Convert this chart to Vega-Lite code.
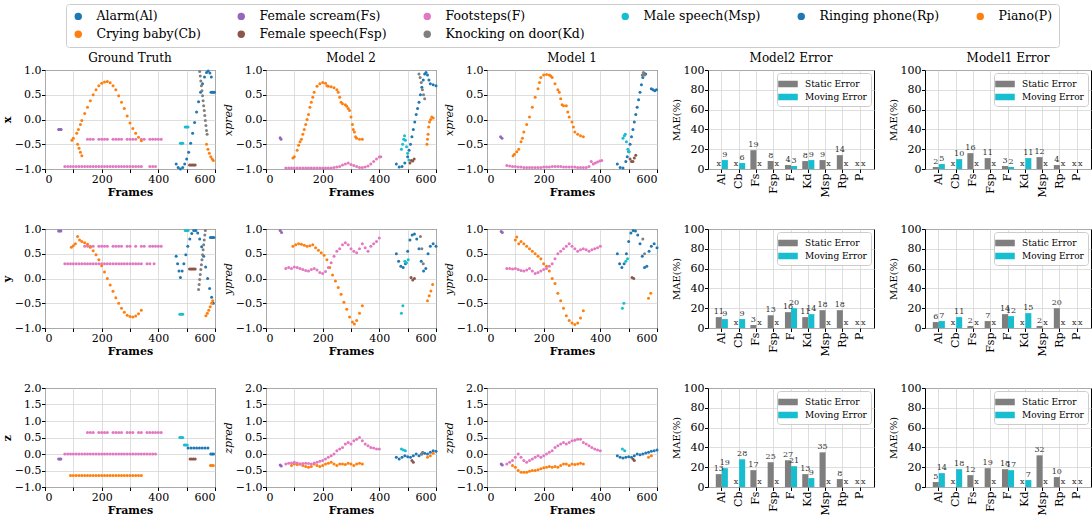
{
"$schema":"https://vega.github.io/schema/vega-lite/v6.json",
"background":"white",
"padding":{"left":0,"top":3,"right":0,"bottom":0},
"config":{
 "font":"DejaVu Serif",
 "view":{"stroke":"black","strokeWidth":1},
 "axis":{"labelFont":"DejaVu Serif","labelFontSize":11,"labelColor":"black","titleFont":"DejaVu Serif","titleFontSize":11,"titleFontWeight":"bold","titleColor":"black","domain":false,"tickColor":"black","tickSize":3.5,"gridColor":"#d6d6d6","gridWidth":0.8,"labelPadding":0.5,"titlePadding":2},
 "title":{"font":"DejaVu Serif","fontSize":12,"fontWeight":"normal","color":"black","offset":-1},
 "legend":{"labelFont":"DejaVu Serif","labelColor":"black"}
},
"datasets":{
"s":[
{"p":"G","a":"x","k":"Fs","f":48,"v":-0.2},{"p":"G","a":"x","k":"Fs","f":51,"v":-0.2},{"p":"G","a":"x","k":"Fs","f":54,"v":-0.2},{"p":"G","a":"x","k":"Fs","f":57,"v":-0.2},
{"p":"G","a":"x","k":"F","f":70,"v":-0.95},{"p":"G","a":"x","k":"F","f":80,"v":-0.95},{"p":"G","a":"x","k":"F","f":90,"v":-0.95},{"p":"G","a":"x","k":"F","f":100,"v":-0.95},{"p":"G","a":"x","k":"F","f":110,"v":-0.95},{"p":"G","a":"x","k":"F","f":120,"v":-0.95},{"p":"G","a":"x","k":"F","f":130,"v":-0.95},{"p":"G","a":"x","k":"F","f":140,"v":-0.95},{"p":"G","a":"x","k":"F","f":150,"v":-0.95},{"p":"G","a":"x","k":"F","f":160,"v":-0.95},{"p":"G","a":"x","k":"F","f":170,"v":-0.95},{"p":"G","a":"x","k":"F","f":180,"v":-0.95},{"p":"G","a":"x","k":"F","f":190,"v":-0.95},{"p":"G","a":"x","k":"F","f":200,"v":-0.95},{"p":"G","a":"x","k":"F","f":210,"v":-0.95},{"p":"G","a":"x","k":"F","f":220,"v":-0.95},{"p":"G","a":"x","k":"F","f":230,"v":-0.95},{"p":"G","a":"x","k":"F","f":240,"v":-0.95},{"p":"G","a":"x","k":"F","f":250,"v":-0.95},{"p":"G","a":"x","k":"F","f":260,"v":-0.95},{"p":"G","a":"x","k":"F","f":270,"v":-0.95},{"p":"G","a":"x","k":"F","f":280,"v":-0.95},{"p":"G","a":"x","k":"F","f":290,"v":-0.95},{"p":"G","a":"x","k":"F","f":300,"v":-0.95},{"p":"G","a":"x","k":"F","f":310,"v":-0.95},{"p":"G","a":"x","k":"F","f":320,"v":-0.95},{"p":"G","a":"x","k":"F","f":330,"v":-0.95},{"p":"G","a":"x","k":"F","f":340,"v":-0.95},{"p":"G","a":"x","k":"F","f":370,"v":-0.95},{"p":"G","a":"x","k":"F","f":380,"v":-0.95},{"p":"G","a":"x","k":"F","f":390,"v":-0.95},
{"p":"G","a":"x","k":"F","f":150,"v":-0.4},{"p":"G","a":"x","k":"F","f":160,"v":-0.4},{"p":"G","a":"x","k":"F","f":170,"v":-0.4},{"p":"G","a":"x","k":"F","f":190,"v":-0.4},{"p":"G","a":"x","k":"F","f":200,"v":-0.4},{"p":"G","a":"x","k":"F","f":210,"v":-0.4},{"p":"G","a":"x","k":"F","f":220,"v":-0.4},{"p":"G","a":"x","k":"F","f":240,"v":-0.4},{"p":"G","a":"x","k":"F","f":250,"v":-0.4},{"p":"G","a":"x","k":"F","f":260,"v":-0.4},{"p":"G","a":"x","k":"F","f":270,"v":-0.4},{"p":"G","a":"x","k":"F","f":290,"v":-0.4},{"p":"G","a":"x","k":"F","f":300,"v":-0.4},{"p":"G","a":"x","k":"F","f":310,"v":-0.4},{"p":"G","a":"x","k":"F","f":320,"v":-0.4},{"p":"G","a":"x","k":"F","f":340,"v":-0.4},{"p":"G","a":"x","k":"F","f":350,"v":-0.4},{"p":"G","a":"x","k":"F","f":370,"v":-0.4},{"p":"G","a":"x","k":"F","f":380,"v":-0.4},{"p":"G","a":"x","k":"F","f":390,"v":-0.4},{"p":"G","a":"x","k":"F","f":400,"v":-0.4},{"p":"G","a":"x","k":"F","f":410,"v":-0.4},
{"p":"G","a":"x","k":"Cb","f":95,"v":-0.42},{"p":"G","a":"x","k":"Cb","f":100,"v":-0.38},{"p":"G","a":"x","k":"Cb","f":112,"v":-0.28},{"p":"G","a":"x","k":"Cb","f":118,"v":-0.2},{"p":"G","a":"x","k":"Cb","f":125,"v":-0.1},{"p":"G","a":"x","k":"Cb","f":130,"v":-0.02},{"p":"G","a":"x","k":"Cb","f":140,"v":0.12},{"p":"G","a":"x","k":"Cb","f":150,"v":0.25},{"p":"G","a":"x","k":"Cb","f":160,"v":0.38},{"p":"G","a":"x","k":"Cb","f":170,"v":0.5},{"p":"G","a":"x","k":"Cb","f":180,"v":0.6},{"p":"G","a":"x","k":"Cb","f":190,"v":0.68},{"p":"G","a":"x","k":"Cb","f":200,"v":0.73},{"p":"G","a":"x","k":"Cb","f":210,"v":0.76},{"p":"G","a":"x","k":"Cb","f":220,"v":0.77},{"p":"G","a":"x","k":"Cb","f":230,"v":0.74},{"p":"G","a":"x","k":"Cb","f":240,"v":0.68},{"p":"G","a":"x","k":"Cb","f":250,"v":0.6},{"p":"G","a":"x","k":"Cb","f":260,"v":0.48},{"p":"G","a":"x","k":"Cb","f":270,"v":0.35},{"p":"G","a":"x","k":"Cb","f":280,"v":0.22},{"p":"G","a":"x","k":"Cb","f":290,"v":0.07},{"p":"G","a":"x","k":"Cb","f":300,"v":-0.07},{"p":"G","a":"x","k":"Cb","f":310,"v":-0.18},{"p":"G","a":"x","k":"Cb","f":320,"v":-0.28},{"p":"G","a":"x","k":"Cb","f":330,"v":-0.36},{"p":"G","a":"x","k":"Cb","f":340,"v":-0.43},
{"p":"G","a":"x","k":"Cb","f":115,"v":-0.5},{"p":"G","a":"x","k":"Cb","f":120,"v":-0.58},{"p":"G","a":"x","k":"Cb","f":125,"v":-0.66},{"p":"G","a":"x","k":"Cb","f":130,"v":-0.73},
{"p":"G","a":"x","k":"Msp","f":478,"v":-0.48},{"p":"G","a":"x","k":"Msp","f":482,"v":-0.48},{"p":"G","a":"x","k":"Msp","f":486,"v":-0.48},{"p":"G","a":"x","k":"Msp","f":495,"v":-0.15},{"p":"G","a":"x","k":"Msp","f":500,"v":-0.15},{"p":"G","a":"x","k":"Msp","f":505,"v":-0.15},
{"p":"G","a":"x","k":"Al","f":463,"v":-0.9},{"p":"G","a":"x","k":"Al","f":470,"v":-0.97},{"p":"G","a":"x","k":"Al","f":478,"v":-1.0},{"p":"G","a":"x","k":"Al","f":486,"v":-0.97},{"p":"G","a":"x","k":"Al","f":493,"v":-0.9},{"p":"G","a":"x","k":"Al","f":500,"v":-0.8},{"p":"G","a":"x","k":"Al","f":507,"v":-0.66},{"p":"G","a":"x","k":"Al","f":514,"v":-0.48},{"p":"G","a":"x","k":"Al","f":521,"v":-0.28},{"p":"G","a":"x","k":"Al","f":528,"v":-0.06},{"p":"G","a":"x","k":"Al","f":535,"v":0.15},{"p":"G","a":"x","k":"Al","f":542,"v":0.36},{"p":"G","a":"x","k":"Al","f":549,"v":0.55},{"p":"G","a":"x","k":"Al","f":556,"v":0.72},{"p":"G","a":"x","k":"Al","f":563,"v":0.86},{"p":"G","a":"x","k":"Al","f":570,"v":0.95},{"p":"G","a":"x","k":"Al","f":576,"v":0.98},{"p":"G","a":"x","k":"Al","f":582,"v":0.94},{"p":"G","a":"x","k":"Al","f":587,"v":0.86},
{"p":"G","a":"x","k":"Rp","f":586,"v":0.55},{"p":"G","a":"x","k":"Rp","f":590,"v":0.55},{"p":"G","a":"x","k":"Rp","f":594,"v":0.55},{"p":"G","a":"x","k":"Rp","f":598,"v":0.55},
{"p":"G","a":"x","k":"Kd","f":546,"v":0.97},{"p":"G","a":"x","k":"Kd","f":548,"v":0.88},{"p":"G","a":"x","k":"Kd","f":550,"v":0.78},{"p":"G","a":"x","k":"Kd","f":552,"v":0.68},{"p":"G","a":"x","k":"Kd","f":554,"v":0.58},{"p":"G","a":"x","k":"Kd","f":556,"v":0.48},{"p":"G","a":"x","k":"Kd","f":558,"v":0.38},{"p":"G","a":"x","k":"Kd","f":560,"v":0.28},{"p":"G","a":"x","k":"Kd","f":562,"v":0.18},{"p":"G","a":"x","k":"Kd","f":564,"v":0.08},{"p":"G","a":"x","k":"Kd","f":566,"v":-0.02},{"p":"G","a":"x","k":"Kd","f":568,"v":-0.12},{"p":"G","a":"x","k":"Kd","f":570,"v":-0.22},{"p":"G","a":"x","k":"Kd","f":572,"v":-0.3},
{"p":"G","a":"x","k":"Fsp","f":510,"v":-0.92},{"p":"G","a":"x","k":"Fsp","f":515,"v":-0.92},{"p":"G","a":"x","k":"Fsp","f":520,"v":-0.92},{"p":"G","a":"x","k":"Fsp","f":525,"v":-0.92},{"p":"G","a":"x","k":"Fsp","f":530,"v":-0.92},
{"p":"G","a":"x","k":"P","f":570,"v":-0.5},{"p":"G","a":"x","k":"P","f":575,"v":-0.6},{"p":"G","a":"x","k":"P","f":580,"v":-0.68},{"p":"G","a":"x","k":"P","f":585,"v":-0.75},{"p":"G","a":"x","k":"P","f":590,"v":-0.8},{"p":"G","a":"x","k":"P","f":594,"v":-0.83},

{"p":"G","a":"y","k":"Fs","f":48,"v":0.96},{"p":"G","a":"y","k":"Fs","f":52,"v":0.96},{"p":"G","a":"y","k":"Fs","f":56,"v":0.96},
{"p":"G","a":"y","k":"F","f":140,"v":0.65},{"p":"G","a":"y","k":"F","f":150,"v":0.65},{"p":"G","a":"y","k":"F","f":160,"v":0.65},{"p":"G","a":"y","k":"F","f":170,"v":0.65},{"p":"G","a":"y","k":"F","f":190,"v":0.65},{"p":"G","a":"y","k":"F","f":200,"v":0.65},{"p":"G","a":"y","k":"F","f":210,"v":0.65},{"p":"G","a":"y","k":"F","f":220,"v":0.65},{"p":"G","a":"y","k":"F","f":240,"v":0.65},{"p":"G","a":"y","k":"F","f":250,"v":0.65},{"p":"G","a":"y","k":"F","f":260,"v":0.65},{"p":"G","a":"y","k":"F","f":270,"v":0.65},{"p":"G","a":"y","k":"F","f":290,"v":0.65},{"p":"G","a":"y","k":"F","f":300,"v":0.65},{"p":"G","a":"y","k":"F","f":320,"v":0.65},{"p":"G","a":"y","k":"F","f":340,"v":0.65},{"p":"G","a":"y","k":"F","f":350,"v":0.65},{"p":"G","a":"y","k":"F","f":370,"v":0.65},{"p":"G","a":"y","k":"F","f":380,"v":0.65},{"p":"G","a":"y","k":"F","f":390,"v":0.65},{"p":"G","a":"y","k":"F","f":400,"v":0.65},{"p":"G","a":"y","k":"F","f":410,"v":0.65},
{"p":"G","a":"y","k":"F","f":70,"v":0.3},{"p":"G","a":"y","k":"F","f":80,"v":0.3},{"p":"G","a":"y","k":"F","f":90,"v":0.3},{"p":"G","a":"y","k":"F","f":100,"v":0.3},{"p":"G","a":"y","k":"F","f":110,"v":0.3},{"p":"G","a":"y","k":"F","f":120,"v":0.3},{"p":"G","a":"y","k":"F","f":130,"v":0.3},{"p":"G","a":"y","k":"F","f":140,"v":0.3},{"p":"G","a":"y","k":"F","f":150,"v":0.3},{"p":"G","a":"y","k":"F","f":160,"v":0.3},{"p":"G","a":"y","k":"F","f":170,"v":0.3},{"p":"G","a":"y","k":"F","f":180,"v":0.3},{"p":"G","a":"y","k":"F","f":190,"v":0.3},{"p":"G","a":"y","k":"F","f":200,"v":0.3},{"p":"G","a":"y","k":"F","f":210,"v":0.3},{"p":"G","a":"y","k":"F","f":220,"v":0.3},{"p":"G","a":"y","k":"F","f":230,"v":0.3},{"p":"G","a":"y","k":"F","f":240,"v":0.3},{"p":"G","a":"y","k":"F","f":250,"v":0.3},{"p":"G","a":"y","k":"F","f":260,"v":0.3},{"p":"G","a":"y","k":"F","f":270,"v":0.3},{"p":"G","a":"y","k":"F","f":280,"v":0.3},{"p":"G","a":"y","k":"F","f":290,"v":0.3},{"p":"G","a":"y","k":"F","f":300,"v":0.3},{"p":"G","a":"y","k":"F","f":310,"v":0.3},{"p":"G","a":"y","k":"F","f":320,"v":0.3},{"p":"G","a":"y","k":"F","f":330,"v":0.3},{"p":"G","a":"y","k":"F","f":340,"v":0.3},{"p":"G","a":"y","k":"F","f":360,"v":0.3},{"p":"G","a":"y","k":"F","f":370,"v":0.3},{"p":"G","a":"y","k":"F","f":385,"v":0.3},
{"p":"G","a":"y","k":"Cb","f":93,"v":0.63},{"p":"G","a":"y","k":"Cb","f":100,"v":0.66},{"p":"G","a":"y","k":"Cb","f":107,"v":0.7},{"p":"G","a":"y","k":"Cb","f":115,"v":0.85},{"p":"G","a":"y","k":"Cb","f":122,"v":0.78},{"p":"G","a":"y","k":"Cb","f":130,"v":0.75},{"p":"G","a":"y","k":"Cb","f":140,"v":0.72},{"p":"G","a":"y","k":"Cb","f":150,"v":0.69},{"p":"G","a":"y","k":"Cb","f":160,"v":0.63},{"p":"G","a":"y","k":"Cb","f":170,"v":0.56},{"p":"G","a":"y","k":"Cb","f":180,"v":0.48},{"p":"G","a":"y","k":"Cb","f":190,"v":0.38},{"p":"G","a":"y","k":"Cb","f":200,"v":0.26},{"p":"G","a":"y","k":"Cb","f":210,"v":0.13},{"p":"G","a":"y","k":"Cb","f":220,"v":0.0},{"p":"G","a":"y","k":"Cb","f":230,"v":-0.13},{"p":"G","a":"y","k":"Cb","f":240,"v":-0.26},{"p":"G","a":"y","k":"Cb","f":250,"v":-0.39},{"p":"G","a":"y","k":"Cb","f":260,"v":-0.5},{"p":"G","a":"y","k":"Cb","f":270,"v":-0.6},{"p":"G","a":"y","k":"Cb","f":280,"v":-0.68},{"p":"G","a":"y","k":"Cb","f":290,"v":-0.74},{"p":"G","a":"y","k":"Cb","f":300,"v":-0.77},{"p":"G","a":"y","k":"Cb","f":310,"v":-0.78},{"p":"G","a":"y","k":"Cb","f":320,"v":-0.76},{"p":"G","a":"y","k":"Cb","f":330,"v":-0.71},{"p":"G","a":"y","k":"Cb","f":340,"v":-0.64},
{"p":"G","a":"y","k":"Al","f":463,"v":0.45},{"p":"G","a":"y","k":"Al","f":468,"v":0.3},{"p":"G","a":"y","k":"Al","f":473,"v":0.15},{"p":"G","a":"y","k":"Al","f":478,"v":0.02},{"p":"G","a":"y","k":"Al","f":484,"v":0.15},{"p":"G","a":"y","k":"Al","f":490,"v":0.3},{"p":"G","a":"y","k":"Al","f":497,"v":0.48},{"p":"G","a":"y","k":"Al","f":504,"v":0.65},{"p":"G","a":"y","k":"Al","f":511,"v":0.8},{"p":"G","a":"y","k":"Al","f":518,"v":0.91},{"p":"G","a":"y","k":"Al","f":525,"v":0.97},{"p":"G","a":"y","k":"Al","f":532,"v":0.97},{"p":"G","a":"y","k":"Al","f":539,"v":0.92},{"p":"G","a":"y","k":"Al","f":546,"v":0.8},{"p":"G","a":"y","k":"Al","f":553,"v":0.64},{"p":"G","a":"y","k":"Al","f":560,"v":0.45},{"p":"G","a":"y","k":"Al","f":567,"v":0.23},{"p":"G","a":"y","k":"Al","f":574,"v":0.0},{"p":"G","a":"y","k":"Al","f":581,"v":-0.2},{"p":"G","a":"y","k":"Al","f":588,"v":-0.38},{"p":"G","a":"y","k":"Al","f":594,"v":-0.5},
{"p":"G","a":"y","k":"Msp","f":476,"v":-0.72},{"p":"G","a":"y","k":"Msp","f":481,"v":-0.72},{"p":"G","a":"y","k":"Msp","f":486,"v":-0.72},{"p":"G","a":"y","k":"Msp","f":495,"v":0.97},{"p":"G","a":"y","k":"Msp","f":500,"v":0.97},{"p":"G","a":"y","k":"Msp","f":505,"v":0.97},
{"p":"G","a":"y","k":"Fsp","f":510,"v":0.19},{"p":"G","a":"y","k":"Fsp","f":515,"v":0.19},{"p":"G","a":"y","k":"Fsp","f":520,"v":0.19},{"p":"G","a":"y","k":"Fsp","f":525,"v":0.19},{"p":"G","a":"y","k":"Fsp","f":530,"v":0.19},
{"p":"G","a":"y","k":"Kd","f":566,"v":0.97},{"p":"G","a":"y","k":"Kd","f":564,"v":0.88},{"p":"G","a":"y","k":"Kd","f":562,"v":0.78},{"p":"G","a":"y","k":"Kd","f":560,"v":0.68},{"p":"G","a":"y","k":"Kd","f":558,"v":0.58},{"p":"G","a":"y","k":"Kd","f":556,"v":0.48},{"p":"G","a":"y","k":"Kd","f":554,"v":0.38},{"p":"G","a":"y","k":"Kd","f":552,"v":0.28},{"p":"G","a":"y","k":"Kd","f":550,"v":0.18},{"p":"G","a":"y","k":"Kd","f":548,"v":0.08},{"p":"G","a":"y","k":"Kd","f":546,"v":-0.02},{"p":"G","a":"y","k":"Kd","f":544,"v":-0.12},{"p":"G","a":"y","k":"Kd","f":542,"v":-0.22},
{"p":"G","a":"y","k":"Rp","f":584,"v":0.83},{"p":"G","a":"y","k":"Rp","f":588,"v":0.83},{"p":"G","a":"y","k":"Rp","f":592,"v":0.83},{"p":"G","a":"y","k":"Rp","f":596,"v":0.83},
{"p":"G","a":"y","k":"P","f":568,"v":-0.75},{"p":"G","a":"y","k":"P","f":573,"v":-0.7},{"p":"G","a":"y","k":"P","f":578,"v":-0.64},{"p":"G","a":"y","k":"P","f":583,"v":-0.57},{"p":"G","a":"y","k":"P","f":588,"v":-0.5},{"p":"G","a":"y","k":"P","f":592,"v":-0.45},

{"p":"G","a":"z","k":"Fs","f":48,"v":-0.15},{"p":"G","a":"z","k":"Fs","f":52,"v":-0.15},{"p":"G","a":"z","k":"Fs","f":56,"v":-0.15},
{"p":"G","a":"z","k":"F","f":70,"v":0.0},{"p":"G","a":"z","k":"F","f":80,"v":0.0},{"p":"G","a":"z","k":"F","f":90,"v":0.0},{"p":"G","a":"z","k":"F","f":100,"v":0.0},{"p":"G","a":"z","k":"F","f":110,"v":0.0},{"p":"G","a":"z","k":"F","f":120,"v":0.0},{"p":"G","a":"z","k":"F","f":130,"v":0.0},{"p":"G","a":"z","k":"F","f":140,"v":0.0},{"p":"G","a":"z","k":"F","f":150,"v":0.0},{"p":"G","a":"z","k":"F","f":160,"v":0.0},{"p":"G","a":"z","k":"F","f":170,"v":0.0},{"p":"G","a":"z","k":"F","f":180,"v":0.0},{"p":"G","a":"z","k":"F","f":190,"v":0.0},{"p":"G","a":"z","k":"F","f":200,"v":0.0},{"p":"G","a":"z","k":"F","f":210,"v":0.0},{"p":"G","a":"z","k":"F","f":220,"v":0.0},{"p":"G","a":"z","k":"F","f":230,"v":0.0},{"p":"G","a":"z","k":"F","f":240,"v":0.0},{"p":"G","a":"z","k":"F","f":250,"v":0.0},{"p":"G","a":"z","k":"F","f":260,"v":0.0},{"p":"G","a":"z","k":"F","f":270,"v":0.0},{"p":"G","a":"z","k":"F","f":280,"v":0.0},{"p":"G","a":"z","k":"F","f":290,"v":0.0},{"p":"G","a":"z","k":"F","f":300,"v":0.0},{"p":"G","a":"z","k":"F","f":310,"v":0.0},{"p":"G","a":"z","k":"F","f":320,"v":0.0},{"p":"G","a":"z","k":"F","f":330,"v":0.0},{"p":"G","a":"z","k":"F","f":340,"v":0.0},{"p":"G","a":"z","k":"F","f":350,"v":0.0},{"p":"G","a":"z","k":"F","f":360,"v":0.0},{"p":"G","a":"z","k":"F","f":370,"v":0.0},{"p":"G","a":"z","k":"F","f":380,"v":0.0},{"p":"G","a":"z","k":"F","f":390,"v":0.0},
{"p":"G","a":"z","k":"F","f":150,"v":0.65},{"p":"G","a":"z","k":"F","f":160,"v":0.65},{"p":"G","a":"z","k":"F","f":170,"v":0.65},{"p":"G","a":"z","k":"F","f":190,"v":0.65},{"p":"G","a":"z","k":"F","f":200,"v":0.65},{"p":"G","a":"z","k":"F","f":210,"v":0.65},{"p":"G","a":"z","k":"F","f":220,"v":0.65},{"p":"G","a":"z","k":"F","f":240,"v":0.65},{"p":"G","a":"z","k":"F","f":250,"v":0.65},{"p":"G","a":"z","k":"F","f":260,"v":0.65},{"p":"G","a":"z","k":"F","f":270,"v":0.65},{"p":"G","a":"z","k":"F","f":290,"v":0.65},{"p":"G","a":"z","k":"F","f":300,"v":0.65},{"p":"G","a":"z","k":"F","f":310,"v":0.65},{"p":"G","a":"z","k":"F","f":330,"v":0.65},{"p":"G","a":"z","k":"F","f":340,"v":0.65},{"p":"G","a":"z","k":"F","f":360,"v":0.65},{"p":"G","a":"z","k":"F","f":370,"v":0.65},{"p":"G","a":"z","k":"F","f":380,"v":0.65},{"p":"G","a":"z","k":"F","f":390,"v":0.65},{"p":"G","a":"z","k":"F","f":400,"v":0.65},{"p":"G","a":"z","k":"F","f":410,"v":0.65},
{"p":"G","a":"z","k":"Cb","f":90,"v":-0.65},{"p":"G","a":"z","k":"Cb","f":100,"v":-0.65},{"p":"G","a":"z","k":"Cb","f":110,"v":-0.65},{"p":"G","a":"z","k":"Cb","f":120,"v":-0.65},{"p":"G","a":"z","k":"Cb","f":130,"v":-0.65},{"p":"G","a":"z","k":"Cb","f":140,"v":-0.65},{"p":"G","a":"z","k":"Cb","f":150,"v":-0.65},{"p":"G","a":"z","k":"Cb","f":160,"v":-0.65},{"p":"G","a":"z","k":"Cb","f":170,"v":-0.65},{"p":"G","a":"z","k":"Cb","f":180,"v":-0.65},{"p":"G","a":"z","k":"Cb","f":190,"v":-0.65},{"p":"G","a":"z","k":"Cb","f":200,"v":-0.65},{"p":"G","a":"z","k":"Cb","f":210,"v":-0.65},{"p":"G","a":"z","k":"Cb","f":220,"v":-0.65},{"p":"G","a":"z","k":"Cb","f":230,"v":-0.65},{"p":"G","a":"z","k":"Cb","f":240,"v":-0.65},{"p":"G","a":"z","k":"Cb","f":250,"v":-0.65},{"p":"G","a":"z","k":"Cb","f":260,"v":-0.65},{"p":"G","a":"z","k":"Cb","f":270,"v":-0.65},{"p":"G","a":"z","k":"Cb","f":280,"v":-0.65},{"p":"G","a":"z","k":"Cb","f":290,"v":-0.65},{"p":"G","a":"z","k":"Cb","f":300,"v":-0.65},{"p":"G","a":"z","k":"Cb","f":310,"v":-0.65},{"p":"G","a":"z","k":"Cb","f":320,"v":-0.65},{"p":"G","a":"z","k":"Cb","f":330,"v":-0.65},{"p":"G","a":"z","k":"Cb","f":340,"v":-0.65},
{"p":"G","a":"z","k":"Msp","f":476,"v":0.5},{"p":"G","a":"z","k":"Msp","f":481,"v":0.5},{"p":"G","a":"z","k":"Msp","f":486,"v":0.5},{"p":"G","a":"z","k":"Msp","f":492,"v":0.27},{"p":"G","a":"z","k":"Msp","f":497,"v":0.27},{"p":"G","a":"z","k":"Msp","f":502,"v":0.27},
{"p":"G","a":"z","k":"Al","f":505,"v":0.18},{"p":"G","a":"z","k":"Al","f":515,"v":0.18},{"p":"G","a":"z","k":"Al","f":525,"v":0.18},{"p":"G","a":"z","k":"Al","f":535,"v":0.18},{"p":"G","a":"z","k":"Al","f":545,"v":0.18},{"p":"G","a":"z","k":"Al","f":555,"v":0.18},{"p":"G","a":"z","k":"Al","f":565,"v":0.18},{"p":"G","a":"z","k":"Al","f":575,"v":0.18},
{"p":"G","a":"z","k":"Fsp","f":512,"v":-0.15},{"p":"G","a":"z","k":"Fsp","f":518,"v":-0.15},{"p":"G","a":"z","k":"Fsp","f":524,"v":-0.15},{"p":"G","a":"z","k":"Fsp","f":530,"v":-0.15},
{"p":"G","a":"z","k":"Rp","f":585,"v":0.0},{"p":"G","a":"z","k":"Rp","f":590,"v":0.0},{"p":"G","a":"z","k":"Rp","f":595,"v":0.0},
{"p":"G","a":"z","k":"P","f":584,"v":-0.35},{"p":"G","a":"z","k":"P","f":589,"v":-0.35},{"p":"G","a":"z","k":"P","f":594,"v":-0.35},

{"p":"M2","a":"x","k":"Fs","f":50,"v":-0.37},{"p":"M2","a":"x","k":"Fs","f":53,"v":-0.4},
{"p":"M2","a":"x","k":"Cb","f":95,"v":-0.78},{"p":"M2","a":"x","k":"Cb","f":100,"v":-0.75},{"p":"M2","a":"x","k":"Cb","f":110,"v":-0.62},{"p":"M2","a":"x","k":"Cb","f":115,"v":-0.52},{"p":"M2","a":"x","k":"Cb","f":120,"v":-0.45},{"p":"M2","a":"x","k":"Cb","f":125,"v":-0.4},{"p":"M2","a":"x","k":"Cb","f":130,"v":-0.3},{"p":"M2","a":"x","k":"Cb","f":135,"v":-0.2},{"p":"M2","a":"x","k":"Cb","f":140,"v":-0.1},{"p":"M2","a":"x","k":"Cb","f":145,"v":0.0},{"p":"M2","a":"x","k":"Cb","f":150,"v":0.1},{"p":"M2","a":"x","k":"Cb","f":155,"v":0.25},{"p":"M2","a":"x","k":"Cb","f":160,"v":0.35},{"p":"M2","a":"x","k":"Cb","f":165,"v":0.45},{"p":"M2","a":"x","k":"Cb","f":170,"v":0.55},{"p":"M2","a":"x","k":"Cb","f":180,"v":0.67},{"p":"M2","a":"x","k":"Cb","f":190,"v":0.72},{"p":"M2","a":"x","k":"Cb","f":200,"v":0.75},{"p":"M2","a":"x","k":"Cb","f":210,"v":0.73},{"p":"M2","a":"x","k":"Cb","f":215,"v":0.68},{"p":"M2","a":"x","k":"Cb","f":220,"v":0.67},{"p":"M2","a":"x","k":"Cb","f":230,"v":0.66},{"p":"M2","a":"x","k":"Cb","f":240,"v":0.64},{"p":"M2","a":"x","k":"Cb","f":250,"v":0.6},{"p":"M2","a":"x","k":"Cb","f":255,"v":0.55},{"p":"M2","a":"x","k":"Cb","f":260,"v":0.45},{"p":"M2","a":"x","k":"Cb","f":265,"v":0.35},{"p":"M2","a":"x","k":"Cb","f":270,"v":0.32},{"p":"M2","a":"x","k":"Cb","f":280,"v":0.3},{"p":"M2","a":"x","k":"Cb","f":285,"v":0.27},{"p":"M2","a":"x","k":"Cb","f":290,"v":0.22},{"p":"M2","a":"x","k":"Cb","f":295,"v":0.18},{"p":"M2","a":"x","k":"Cb","f":300,"v":0.05},{"p":"M2","a":"x","k":"Cb","f":305,"v":-0.1},{"p":"M2","a":"x","k":"Cb","f":308,"v":-0.2},{"p":"M2","a":"x","k":"Cb","f":312,"v":-0.25},{"p":"M2","a":"x","k":"Cb","f":316,"v":-0.35},{"p":"M2","a":"x","k":"Cb","f":320,"v":-0.38},{"p":"M2","a":"x","k":"Cb","f":330,"v":-0.4},{"p":"M2","a":"x","k":"Cb","f":340,"v":-0.4},
{"p":"M2","a":"x","k":"F","f":70,"v":-0.98},{"p":"M2","a":"x","k":"F","f":80,"v":-0.98},{"p":"M2","a":"x","k":"F","f":90,"v":-0.98},{"p":"M2","a":"x","k":"F","f":100,"v":-0.98},{"p":"M2","a":"x","k":"F","f":110,"v":-0.98},{"p":"M2","a":"x","k":"F","f":120,"v":-0.98},{"p":"M2","a":"x","k":"F","f":130,"v":-0.98},{"p":"M2","a":"x","k":"F","f":140,"v":-0.98},{"p":"M2","a":"x","k":"F","f":150,"v":-0.98},{"p":"M2","a":"x","k":"F","f":160,"v":-0.98},{"p":"M2","a":"x","k":"F","f":170,"v":-0.98},{"p":"M2","a":"x","k":"F","f":180,"v":-0.98},{"p":"M2","a":"x","k":"F","f":190,"v":-0.98},{"p":"M2","a":"x","k":"F","f":200,"v":-0.98},{"p":"M2","a":"x","k":"F","f":210,"v":-0.98},{"p":"M2","a":"x","k":"F","f":220,"v":-0.98},{"p":"M2","a":"x","k":"F","f":230,"v":-0.98},{"p":"M2","a":"x","k":"F","f":240,"v":-0.97},{"p":"M2","a":"x","k":"F","f":250,"v":-0.96},{"p":"M2","a":"x","k":"F","f":260,"v":-0.95},{"p":"M2","a":"x","k":"F","f":270,"v":-0.92},{"p":"M2","a":"x","k":"F","f":280,"v":-0.9},{"p":"M2","a":"x","k":"F","f":290,"v":-0.88},{"p":"M2","a":"x","k":"F","f":300,"v":-0.91},{"p":"M2","a":"x","k":"F","f":310,"v":-0.93},{"p":"M2","a":"x","k":"F","f":320,"v":-0.95},{"p":"M2","a":"x","k":"F","f":330,"v":-0.97},{"p":"M2","a":"x","k":"F","f":340,"v":-0.97},{"p":"M2","a":"x","k":"F","f":350,"v":-0.96},{"p":"M2","a":"x","k":"F","f":360,"v":-0.94},{"p":"M2","a":"x","k":"F","f":370,"v":-0.9},{"p":"M2","a":"x","k":"F","f":380,"v":-0.85},{"p":"M2","a":"x","k":"F","f":390,"v":-0.8},{"p":"M2","a":"x","k":"F","f":400,"v":-0.76},{"p":"M2","a":"x","k":"F","f":405,"v":-0.75},
{"p":"M2","a":"x","k":"Al","f":460,"v":-0.9},{"p":"M2","a":"x","k":"Al","f":470,"v":-0.96},{"p":"M2","a":"x","k":"Al","f":480,"v":-0.95},{"p":"M2","a":"x","k":"Al","f":490,"v":-0.88},{"p":"M2","a":"x","k":"Al","f":500,"v":-0.75},{"p":"M2","a":"x","k":"Al","f":505,"v":-0.62},{"p":"M2","a":"x","k":"Al","f":510,"v":-0.5},{"p":"M2","a":"x","k":"Al","f":515,"v":-0.35},{"p":"M2","a":"x","k":"Al","f":520,"v":-0.2},{"p":"M2","a":"x","k":"Al","f":525,"v":-0.05},{"p":"M2","a":"x","k":"Al","f":530,"v":0.1},{"p":"M2","a":"x","k":"Al","f":535,"v":0.22},{"p":"M2","a":"x","k":"Al","f":540,"v":0.35},{"p":"M2","a":"x","k":"Al","f":545,"v":0.5},{"p":"M2","a":"x","k":"Al","f":550,"v":0.65},{"p":"M2","a":"x","k":"Al","f":555,"v":0.8},{"p":"M2","a":"x","k":"Al","f":560,"v":0.92},{"p":"M2","a":"x","k":"Al","f":565,"v":0.95},{"p":"M2","a":"x","k":"Al","f":570,"v":0.9},{"p":"M2","a":"x","k":"Al","f":575,"v":0.8},{"p":"M2","a":"x","k":"Al","f":580,"v":0.72},{"p":"M2","a":"x","k":"Al","f":590,"v":0.7},{"p":"M2","a":"x","k":"Al","f":600,"v":0.68},
{"p":"M2","a":"x","k":"Msp","f":478,"v":-0.6},{"p":"M2","a":"x","k":"Msp","f":482,"v":-0.5},{"p":"M2","a":"x","k":"Msp","f":486,"v":-0.4},{"p":"M2","a":"x","k":"Msp","f":489,"v":-0.33},{"p":"M2","a":"x","k":"Msp","f":492,"v":-0.42},{"p":"M2","a":"x","k":"Msp","f":496,"v":-0.55},{"p":"M2","a":"x","k":"Msp","f":500,"v":-0.68},{"p":"M2","a":"x","k":"Msp","f":504,"v":-0.82},
{"p":"M2","a":"x","k":"Fsp","f":508,"v":-0.88},{"p":"M2","a":"x","k":"Fsp","f":513,"v":-0.83},{"p":"M2","a":"x","k":"Fsp","f":518,"v":-0.84},{"p":"M2","a":"x","k":"Fsp","f":523,"v":-0.8},
{"p":"M2","a":"x","k":"Kd","f":540,"v":0.92},{"p":"M2","a":"x","k":"Kd","f":544,"v":0.85},{"p":"M2","a":"x","k":"Kd","f":548,"v":0.75},{"p":"M2","a":"x","k":"Kd","f":552,"v":0.6},{"p":"M2","a":"x","k":"Kd","f":556,"v":0.5},{"p":"M2","a":"x","k":"Kd","f":560,"v":0.42},
{"p":"M2","a":"x","k":"P","f":568,"v":-0.5},{"p":"M2","a":"x","k":"P","f":570,"v":-0.4},{"p":"M2","a":"x","k":"P","f":572,"v":-0.3},{"p":"M2","a":"x","k":"P","f":574,"v":-0.15},{"p":"M2","a":"x","k":"P","f":577,"v":-0.05},{"p":"M2","a":"x","k":"P","f":581,"v":0.0},{"p":"M2","a":"x","k":"P","f":585,"v":0.05},{"p":"M2","a":"x","k":"P","f":590,"v":0.03},

{"p":"M1","a":"x","k":"Fs","f":48,"v":-0.35},{"p":"M1","a":"x","k":"Fs","f":53,"v":-0.38},
{"p":"M1","a":"x","k":"Cb","f":92,"v":-0.73},{"p":"M1","a":"x","k":"Cb","f":97,"v":-0.7},{"p":"M1","a":"x","k":"Cb","f":105,"v":-0.65},{"p":"M1","a":"x","k":"Cb","f":112,"v":-0.6},{"p":"M1","a":"x","k":"Cb","f":120,"v":-0.45},{"p":"M1","a":"x","k":"Cb","f":125,"v":-0.38},{"p":"M1","a":"x","k":"Cb","f":130,"v":-0.25},{"p":"M1","a":"x","k":"Cb","f":140,"v":-0.1},{"p":"M1","a":"x","k":"Cb","f":150,"v":0.05},{"p":"M1","a":"x","k":"Cb","f":160,"v":0.25},{"p":"M1","a":"x","k":"Cb","f":170,"v":0.45},{"p":"M1","a":"x","k":"Cb","f":180,"v":0.62},{"p":"M1","a":"x","k":"Cb","f":185,"v":0.75},{"p":"M1","a":"x","k":"Cb","f":190,"v":0.85},{"p":"M1","a":"x","k":"Cb","f":200,"v":0.9},{"p":"M1","a":"x","k":"Cb","f":210,"v":0.91},{"p":"M1","a":"x","k":"Cb","f":220,"v":0.9},{"p":"M1","a":"x","k":"Cb","f":225,"v":0.88},{"p":"M1","a":"x","k":"Cb","f":230,"v":0.85},{"p":"M1","a":"x","k":"Cb","f":240,"v":0.72},{"p":"M1","a":"x","k":"Cb","f":250,"v":0.6},{"p":"M1","a":"x","k":"Cb","f":255,"v":0.55},{"p":"M1","a":"x","k":"Cb","f":260,"v":0.42},{"p":"M1","a":"x","k":"Cb","f":265,"v":0.3},{"p":"M1","a":"x","k":"Cb","f":270,"v":0.28},{"p":"M1","a":"x","k":"Cb","f":280,"v":0.28},{"p":"M1","a":"x","k":"Cb","f":285,"v":0.15},{"p":"M1","a":"x","k":"Cb","f":290,"v":0.05},{"p":"M1","a":"x","k":"Cb","f":300,"v":-0.05},{"p":"M1","a":"x","k":"Cb","f":305,"v":-0.15},{"p":"M1","a":"x","k":"Cb","f":310,"v":-0.25},{"p":"M1","a":"x","k":"Cb","f":320,"v":-0.3},{"p":"M1","a":"x","k":"Cb","f":330,"v":-0.33},{"p":"M1","a":"x","k":"Cb","f":340,"v":-0.35},
{"p":"M1","a":"x","k":"F","f":70,"v":-0.93},{"p":"M1","a":"x","k":"F","f":80,"v":-0.94},{"p":"M1","a":"x","k":"F","f":90,"v":-0.95},{"p":"M1","a":"x","k":"F","f":100,"v":-0.95},{"p":"M1","a":"x","k":"F","f":110,"v":-0.96},{"p":"M1","a":"x","k":"F","f":120,"v":-0.96},{"p":"M1","a":"x","k":"F","f":130,"v":-0.97},{"p":"M1","a":"x","k":"F","f":140,"v":-0.97},{"p":"M1","a":"x","k":"F","f":150,"v":-0.97},{"p":"M1","a":"x","k":"F","f":160,"v":-0.97},{"p":"M1","a":"x","k":"F","f":170,"v":-0.97},{"p":"M1","a":"x","k":"F","f":180,"v":-0.97},{"p":"M1","a":"x","k":"F","f":190,"v":-0.97},{"p":"M1","a":"x","k":"F","f":200,"v":-0.96},{"p":"M1","a":"x","k":"F","f":210,"v":-0.96},{"p":"M1","a":"x","k":"F","f":220,"v":-0.96},{"p":"M1","a":"x","k":"F","f":230,"v":-0.95},{"p":"M1","a":"x","k":"F","f":240,"v":-0.95},{"p":"M1","a":"x","k":"F","f":250,"v":-0.95},{"p":"M1","a":"x","k":"F","f":260,"v":-0.95},{"p":"M1","a":"x","k":"F","f":270,"v":-0.96},{"p":"M1","a":"x","k":"F","f":280,"v":-0.96},{"p":"M1","a":"x","k":"F","f":290,"v":-0.96},{"p":"M1","a":"x","k":"F","f":300,"v":-0.96},{"p":"M1","a":"x","k":"F","f":310,"v":-0.96},{"p":"M1","a":"x","k":"F","f":320,"v":-0.97},{"p":"M1","a":"x","k":"F","f":330,"v":-0.97},{"p":"M1","a":"x","k":"F","f":340,"v":-0.97},{"p":"M1","a":"x","k":"F","f":350,"v":-0.97},{"p":"M1","a":"x","k":"F","f":360,"v":-0.95},{"p":"M1","a":"x","k":"F","f":368,"v":-0.85},{"p":"M1","a":"x","k":"F","f":375,"v":-0.9},{"p":"M1","a":"x","k":"F","f":382,"v":-0.88},{"p":"M1","a":"x","k":"F","f":390,"v":-0.86},{"p":"M1","a":"x","k":"F","f":398,"v":-0.84},{"p":"M1","a":"x","k":"F","f":405,"v":-0.83},
{"p":"M1","a":"x","k":"Al","f":460,"v":-0.9},{"p":"M1","a":"x","k":"Al","f":470,"v":-0.97},{"p":"M1","a":"x","k":"Al","f":480,"v":-0.98},{"p":"M1","a":"x","k":"Al","f":490,"v":-0.85},{"p":"M1","a":"x","k":"Al","f":495,"v":-0.75},{"p":"M1","a":"x","k":"Al","f":500,"v":-0.65},{"p":"M1","a":"x","k":"Al","f":505,"v":-0.5},{"p":"M1","a":"x","k":"Al","f":510,"v":-0.35},{"p":"M1","a":"x","k":"Al","f":515,"v":-0.2},{"p":"M1","a":"x","k":"Al","f":520,"v":-0.05},{"p":"M1","a":"x","k":"Al","f":525,"v":0.1},{"p":"M1","a":"x","k":"Al","f":530,"v":0.25},{"p":"M1","a":"x","k":"Al","f":535,"v":0.4},{"p":"M1","a":"x","k":"Al","f":540,"v":0.55},{"p":"M1","a":"x","k":"Al","f":545,"v":0.7},{"p":"M1","a":"x","k":"Al","f":550,"v":0.85},{"p":"M1","a":"x","k":"Al","f":555,"v":0.93},{"p":"M1","a":"x","k":"Al","f":560,"v":0.92},
{"p":"M1","a":"x","k":"Rp","f":580,"v":0.62},{"p":"M1","a":"x","k":"Rp","f":586,"v":0.6},{"p":"M1","a":"x","k":"Rp","f":592,"v":0.58},{"p":"M1","a":"x","k":"Rp","f":598,"v":0.6},
{"p":"M1","a":"x","k":"Msp","f":480,"v":-0.38},{"p":"M1","a":"x","k":"Msp","f":485,"v":-0.33},{"p":"M1","a":"x","k":"Msp","f":488,"v":-0.3},{"p":"M1","a":"x","k":"Msp","f":492,"v":-0.45},{"p":"M1","a":"x","k":"Msp","f":497,"v":-0.6},{"p":"M1","a":"x","k":"Msp","f":502,"v":-0.65},
{"p":"M1","a":"x","k":"Fsp","f":505,"v":-0.8},{"p":"M1","a":"x","k":"Fsp","f":510,"v":-0.85},{"p":"M1","a":"x","k":"Fsp","f":515,"v":-0.85},{"p":"M1","a":"x","k":"Fsp","f":520,"v":-0.78},{"p":"M1","a":"x","k":"Fsp","f":525,"v":-0.72},
{"p":"M1","a":"x","k":"Kd","f":548,"v":0.9},{"p":"M1","a":"x","k":"Kd","f":552,"v":0.95},{"p":"M1","a":"x","k":"Kd","f":556,"v":0.9},

{"p":"M2","a":"y","k":"Fs","f":50,"v":0.97},{"p":"M2","a":"y","k":"Fs","f":55,"v":0.93},
{"p":"M2","a":"y","k":"Cb","f":95,"v":0.65},{"p":"M2","a":"y","k":"Cb","f":105,"v":0.68},{"p":"M2","a":"y","k":"Cb","f":115,"v":0.7},{"p":"M2","a":"y","k":"Cb","f":125,"v":0.69},{"p":"M2","a":"y","k":"Cb","f":135,"v":0.67},{"p":"M2","a":"y","k":"Cb","f":145,"v":0.65},{"p":"M2","a":"y","k":"Cb","f":155,"v":0.66},{"p":"M2","a":"y","k":"Cb","f":165,"v":0.68},{"p":"M2","a":"y","k":"Cb","f":175,"v":0.62},{"p":"M2","a":"y","k":"Cb","f":185,"v":0.57},{"p":"M2","a":"y","k":"Cb","f":195,"v":0.52},{"p":"M2","a":"y","k":"Cb","f":205,"v":0.47},{"p":"M2","a":"y","k":"Cb","f":215,"v":0.38},{"p":"M2","a":"y","k":"Cb","f":225,"v":0.22},{"p":"M2","a":"y","k":"Cb","f":235,"v":0.07},{"p":"M2","a":"y","k":"Cb","f":245,"v":-0.05},{"p":"M2","a":"y","k":"Cb","f":255,"v":-0.18},{"p":"M2","a":"y","k":"Cb","f":265,"v":-0.32},{"p":"M2","a":"y","k":"Cb","f":275,"v":-0.48},{"p":"M2","a":"y","k":"Cb","f":285,"v":-0.62},{"p":"M2","a":"y","k":"Cb","f":295,"v":-0.78},{"p":"M2","a":"y","k":"Cb","f":305,"v":-0.88},{"p":"M2","a":"y","k":"Cb","f":312,"v":-0.92},{"p":"M2","a":"y","k":"Cb","f":320,"v":-0.85},{"p":"M2","a":"y","k":"Cb","f":330,"v":-0.7},{"p":"M2","a":"y","k":"Cb","f":340,"v":-0.55},
{"p":"M2","a":"y","k":"F","f":70,"v":0.2},{"p":"M2","a":"y","k":"F","f":80,"v":0.22},{"p":"M2","a":"y","k":"F","f":90,"v":0.2},{"p":"M2","a":"y","k":"F","f":100,"v":0.23},{"p":"M2","a":"y","k":"F","f":110,"v":0.22},{"p":"M2","a":"y","k":"F","f":120,"v":0.2},{"p":"M2","a":"y","k":"F","f":130,"v":0.18},{"p":"M2","a":"y","k":"F","f":140,"v":0.16},{"p":"M2","a":"y","k":"F","f":150,"v":0.15},{"p":"M2","a":"y","k":"F","f":160,"v":0.18},{"p":"M2","a":"y","k":"F","f":170,"v":0.2},{"p":"M2","a":"y","k":"F","f":180,"v":0.17},{"p":"M2","a":"y","k":"F","f":190,"v":0.12},{"p":"M2","a":"y","k":"F","f":200,"v":0.1},{"p":"M2","a":"y","k":"F","f":210,"v":0.14},{"p":"M2","a":"y","k":"F","f":220,"v":0.22},{"p":"M2","a":"y","k":"F","f":230,"v":0.32},{"p":"M2","a":"y","k":"F","f":240,"v":0.45},{"p":"M2","a":"y","k":"F","f":250,"v":0.55},{"p":"M2","a":"y","k":"F","f":260,"v":0.6},{"p":"M2","a":"y","k":"F","f":270,"v":0.68},{"p":"M2","a":"y","k":"F","f":280,"v":0.72},{"p":"M2","a":"y","k":"F","f":290,"v":0.68},{"p":"M2","a":"y","k":"F","f":300,"v":0.6},{"p":"M2","a":"y","k":"F","f":310,"v":0.55},{"p":"M2","a":"y","k":"F","f":320,"v":0.52},{"p":"M2","a":"y","k":"F","f":330,"v":0.6},{"p":"M2","a":"y","k":"F","f":340,"v":0.7},{"p":"M2","a":"y","k":"F","f":350,"v":0.62},{"p":"M2","a":"y","k":"F","f":360,"v":0.55},{"p":"M2","a":"y","k":"F","f":370,"v":0.65},{"p":"M2","a":"y","k":"F","f":380,"v":0.7},{"p":"M2","a":"y","k":"F","f":390,"v":0.75},{"p":"M2","a":"y","k":"F","f":400,"v":0.82},
{"p":"M2","a":"y","k":"Al","f":460,"v":0.5},{"p":"M2","a":"y","k":"Al","f":468,"v":0.35},{"p":"M2","a":"y","k":"Al","f":476,"v":0.25},{"p":"M2","a":"y","k":"Al","f":484,"v":0.22},{"p":"M2","a":"y","k":"Al","f":492,"v":0.3},{"p":"M2","a":"y","k":"Al","f":500,"v":0.55},{"p":"M2","a":"y","k":"Al","f":508,"v":0.78},{"p":"M2","a":"y","k":"Al","f":516,"v":0.88},{"p":"M2","a":"y","k":"Al","f":524,"v":0.9},{"p":"M2","a":"y","k":"Al","f":532,"v":0.8},{"p":"M2","a":"y","k":"Al","f":540,"v":0.6},{"p":"M2","a":"y","k":"Al","f":548,"v":0.35},{"p":"M2","a":"y","k":"Al","f":556,"v":0.15},{"p":"M2","a":"y","k":"Al","f":564,"v":0.2},{"p":"M2","a":"y","k":"Al","f":572,"v":0.5},{"p":"M2","a":"y","k":"Al","f":580,"v":0.65},{"p":"M2","a":"y","k":"Al","f":590,"v":0.7},{"p":"M2","a":"y","k":"Al","f":600,"v":0.65},
{"p":"M2","a":"y","k":"Msp","f":478,"v":-0.7},{"p":"M2","a":"y","k":"Msp","f":483,"v":-0.55},{"p":"M2","a":"y","k":"Msp","f":490,"v":0.35},{"p":"M2","a":"y","k":"Msp","f":496,"v":0.32},{"p":"M2","a":"y","k":"Msp","f":502,"v":0.38},
{"p":"M2","a":"y","k":"Fsp","f":512,"v":0.02},{"p":"M2","a":"y","k":"Fsp","f":518,"v":-0.03},{"p":"M2","a":"y","k":"Fsp","f":524,"v":0.0},
{"p":"M2","a":"y","k":"Kd","f":545,"v":0.85},{"p":"M2","a":"y","k":"Kd","f":550,"v":0.6},{"p":"M2","a":"y","k":"Kd","f":555,"v":0.3},
{"p":"M2","a":"y","k":"P","f":570,"v":-0.45},{"p":"M2","a":"y","k":"P","f":576,"v":-0.35},{"p":"M2","a":"y","k":"P","f":582,"v":-0.25},{"p":"M2","a":"y","k":"P","f":588,"v":-0.12},

{"p":"M1","a":"y","k":"Fs","f":50,"v":0.95},{"p":"M1","a":"y","k":"Fs","f":54,"v":0.93},
{"p":"M1","a":"y","k":"Cb","f":100,"v":0.78},{"p":"M1","a":"y","k":"Cb","f":105,"v":0.84},{"p":"M1","a":"y","k":"Cb","f":112,"v":0.7},{"p":"M1","a":"y","k":"Cb","f":120,"v":0.75},{"p":"M1","a":"y","k":"Cb","f":130,"v":0.7},{"p":"M1","a":"y","k":"Cb","f":140,"v":0.65},{"p":"M1","a":"y","k":"Cb","f":150,"v":0.6},{"p":"M1","a":"y","k":"Cb","f":160,"v":0.55},{"p":"M1","a":"y","k":"Cb","f":170,"v":0.5},{"p":"M1","a":"y","k":"Cb","f":180,"v":0.45},{"p":"M1","a":"y","k":"Cb","f":190,"v":0.4},{"p":"M1","a":"y","k":"Cb","f":200,"v":0.3},{"p":"M1","a":"y","k":"Cb","f":210,"v":0.25},{"p":"M1","a":"y","k":"Cb","f":220,"v":0.15},{"p":"M1","a":"y","k":"Cb","f":230,"v":0.0},{"p":"M1","a":"y","k":"Cb","f":240,"v":-0.1},{"p":"M1","a":"y","k":"Cb","f":250,"v":-0.3},{"p":"M1","a":"y","k":"Cb","f":260,"v":-0.45},{"p":"M1","a":"y","k":"Cb","f":270,"v":-0.6},{"p":"M1","a":"y","k":"Cb","f":280,"v":-0.75},{"p":"M1","a":"y","k":"Cb","f":290,"v":-0.85},{"p":"M1","a":"y","k":"Cb","f":300,"v":-0.9},{"p":"M1","a":"y","k":"Cb","f":310,"v":-0.93},{"p":"M1","a":"y","k":"Cb","f":320,"v":-0.9},{"p":"M1","a":"y","k":"Cb","f":330,"v":-0.8},{"p":"M1","a":"y","k":"Cb","f":340,"v":-0.65},
{"p":"M1","a":"y","k":"F","f":70,"v":0.2},{"p":"M1","a":"y","k":"F","f":80,"v":0.2},{"p":"M1","a":"y","k":"F","f":90,"v":0.19},{"p":"M1","a":"y","k":"F","f":100,"v":0.2},{"p":"M1","a":"y","k":"F","f":110,"v":0.18},{"p":"M1","a":"y","k":"F","f":120,"v":0.16},{"p":"M1","a":"y","k":"F","f":130,"v":0.15},{"p":"M1","a":"y","k":"F","f":140,"v":0.17},{"p":"M1","a":"y","k":"F","f":150,"v":0.2},{"p":"M1","a":"y","k":"F","f":160,"v":0.15},{"p":"M1","a":"y","k":"F","f":170,"v":0.1},{"p":"M1","a":"y","k":"F","f":180,"v":0.12},{"p":"M1","a":"y","k":"F","f":190,"v":0.15},{"p":"M1","a":"y","k":"F","f":200,"v":0.18},{"p":"M1","a":"y","k":"F","f":210,"v":0.2},{"p":"M1","a":"y","k":"F","f":220,"v":0.25},{"p":"M1","a":"y","k":"F","f":230,"v":0.3},{"p":"M1","a":"y","k":"F","f":240,"v":0.4},{"p":"M1","a":"y","k":"F","f":250,"v":0.5},{"p":"M1","a":"y","k":"F","f":260,"v":0.55},{"p":"M1","a":"y","k":"F","f":270,"v":0.6},{"p":"M1","a":"y","k":"F","f":280,"v":0.65},{"p":"M1","a":"y","k":"F","f":290,"v":0.7},{"p":"M1","a":"y","k":"F","f":300,"v":0.65},{"p":"M1","a":"y","k":"F","f":310,"v":0.6},{"p":"M1","a":"y","k":"F","f":320,"v":0.55},{"p":"M1","a":"y","k":"F","f":330,"v":0.58},{"p":"M1","a":"y","k":"F","f":340,"v":0.6},{"p":"M1","a":"y","k":"F","f":350,"v":0.58},{"p":"M1","a":"y","k":"F","f":360,"v":0.55},{"p":"M1","a":"y","k":"F","f":370,"v":0.58},{"p":"M1","a":"y","k":"F","f":380,"v":0.6},{"p":"M1","a":"y","k":"F","f":390,"v":0.62},{"p":"M1","a":"y","k":"F","f":400,"v":0.65},
{"p":"M1","a":"y","k":"Al","f":460,"v":0.5},{"p":"M1","a":"y","k":"Al","f":468,"v":0.3},{"p":"M1","a":"y","k":"Al","f":476,"v":0.22},{"p":"M1","a":"y","k":"Al","f":484,"v":0.3},{"p":"M1","a":"y","k":"Al","f":492,"v":0.5},{"p":"M1","a":"y","k":"Al","f":500,"v":0.75},{"p":"M1","a":"y","k":"Al","f":508,"v":0.92},{"p":"M1","a":"y","k":"Al","f":516,"v":0.97},{"p":"M1","a":"y","k":"Al","f":524,"v":0.96},{"p":"M1","a":"y","k":"Al","f":532,"v":0.88},{"p":"M1","a":"y","k":"Al","f":540,"v":0.7},{"p":"M1","a":"y","k":"Al","f":548,"v":0.45},{"p":"M1","a":"y","k":"Al","f":556,"v":0.22},{"p":"M1","a":"y","k":"Al","f":564,"v":0.25},{"p":"M1","a":"y","k":"Al","f":572,"v":0.55},{"p":"M1","a":"y","k":"Al","f":580,"v":0.65},{"p":"M1","a":"y","k":"Al","f":590,"v":0.7},{"p":"M1","a":"y","k":"Al","f":600,"v":0.62},
{"p":"M1","a":"y","k":"Msp","f":478,"v":-0.6},{"p":"M1","a":"y","k":"Msp","f":483,"v":-0.5},{"p":"M1","a":"y","k":"Msp","f":490,"v":0.35},{"p":"M1","a":"y","k":"Msp","f":496,"v":0.4},
{"p":"M1","a":"y","k":"Fsp","f":512,"v":0.02},{"p":"M1","a":"y","k":"Fsp","f":518,"v":0.0},
{"p":"M1","a":"y","k":"Kd","f":550,"v":0.8},{"p":"M1","a":"y","k":"Kd","f":556,"v":0.5},
{"p":"M1","a":"y","k":"P","f":570,"v":-0.4},{"p":"M1","a":"y","k":"P","f":578,"v":-0.3},

{"p":"M2","a":"z","k":"Fs","f":50,"v":-0.33},{"p":"M2","a":"z","k":"Fs","f":54,"v":-0.36},
{"p":"M2","a":"z","k":"Cb","f":90,"v":-0.35},{"p":"M2","a":"z","k":"Cb","f":100,"v":-0.3},{"p":"M2","a":"z","k":"Cb","f":110,"v":-0.32},{"p":"M2","a":"z","k":"Cb","f":120,"v":-0.3},{"p":"M2","a":"z","k":"Cb","f":130,"v":-0.35},{"p":"M2","a":"z","k":"Cb","f":140,"v":-0.38},{"p":"M2","a":"z","k":"Cb","f":150,"v":-0.4},{"p":"M2","a":"z","k":"Cb","f":160,"v":-0.38},{"p":"M2","a":"z","k":"Cb","f":170,"v":-0.3},{"p":"M2","a":"z","k":"Cb","f":180,"v":-0.35},{"p":"M2","a":"z","k":"Cb","f":190,"v":-0.38},{"p":"M2","a":"z","k":"Cb","f":200,"v":-0.35},{"p":"M2","a":"z","k":"Cb","f":210,"v":-0.3},{"p":"M2","a":"z","k":"Cb","f":220,"v":-0.28},{"p":"M2","a":"z","k":"Cb","f":230,"v":-0.25},{"p":"M2","a":"z","k":"Cb","f":240,"v":-0.3},{"p":"M2","a":"z","k":"Cb","f":250,"v":-0.35},{"p":"M2","a":"z","k":"Cb","f":260,"v":-0.3},{"p":"M2","a":"z","k":"Cb","f":270,"v":-0.3},{"p":"M2","a":"z","k":"Cb","f":280,"v":-0.32},{"p":"M2","a":"z","k":"Cb","f":290,"v":-0.28},{"p":"M2","a":"z","k":"Cb","f":300,"v":-0.3},{"p":"M2","a":"z","k":"Cb","f":310,"v":-0.35},{"p":"M2","a":"z","k":"Cb","f":320,"v":-0.3},{"p":"M2","a":"z","k":"Cb","f":330,"v":-0.28},{"p":"M2","a":"z","k":"Cb","f":340,"v":-0.3},
{"p":"M2","a":"z","k":"F","f":70,"v":-0.3},{"p":"M2","a":"z","k":"F","f":80,"v":-0.28},{"p":"M2","a":"z","k":"F","f":90,"v":-0.27},{"p":"M2","a":"z","k":"F","f":100,"v":-0.25},{"p":"M2","a":"z","k":"F","f":110,"v":-0.27},{"p":"M2","a":"z","k":"F","f":120,"v":-0.3},{"p":"M2","a":"z","k":"F","f":130,"v":-0.29},{"p":"M2","a":"z","k":"F","f":140,"v":-0.28},{"p":"M2","a":"z","k":"F","f":150,"v":-0.29},{"p":"M2","a":"z","k":"F","f":160,"v":-0.3},{"p":"M2","a":"z","k":"F","f":170,"v":-0.27},{"p":"M2","a":"z","k":"F","f":180,"v":-0.25},{"p":"M2","a":"z","k":"F","f":190,"v":-0.22},{"p":"M2","a":"z","k":"F","f":200,"v":-0.2},{"p":"M2","a":"z","k":"F","f":210,"v":-0.15},{"p":"M2","a":"z","k":"F","f":220,"v":-0.1},{"p":"M2","a":"z","k":"F","f":230,"v":-0.05},{"p":"M2","a":"z","k":"F","f":240,"v":0.0},{"p":"M2","a":"z","k":"F","f":250,"v":0.1},{"p":"M2","a":"z","k":"F","f":260,"v":0.15},{"p":"M2","a":"z","k":"F","f":270,"v":0.2},{"p":"M2","a":"z","k":"F","f":280,"v":0.3},{"p":"M2","a":"z","k":"F","f":290,"v":0.35},{"p":"M2","a":"z","k":"F","f":300,"v":0.3},{"p":"M2","a":"z","k":"F","f":310,"v":0.4},{"p":"M2","a":"z","k":"F","f":320,"v":0.45},{"p":"M2","a":"z","k":"F","f":330,"v":0.5},{"p":"M2","a":"z","k":"F","f":340,"v":0.4},{"p":"M2","a":"z","k":"F","f":350,"v":0.3},{"p":"M2","a":"z","k":"F","f":360,"v":0.25},{"p":"M2","a":"z","k":"F","f":370,"v":0.2},{"p":"M2","a":"z","k":"F","f":380,"v":0.18},{"p":"M2","a":"z","k":"F","f":390,"v":0.15},{"p":"M2","a":"z","k":"F","f":400,"v":0.15},
{"p":"M2","a":"z","k":"Al","f":460,"v":-0.1},{"p":"M2","a":"z","k":"Al","f":470,"v":-0.15},{"p":"M2","a":"z","k":"Al","f":480,"v":-0.1},{"p":"M2","a":"z","k":"Al","f":490,"v":-0.05},{"p":"M2","a":"z","k":"Al","f":500,"v":-0.08},{"p":"M2","a":"z","k":"Al","f":510,"v":-0.1},{"p":"M2","a":"z","k":"Al","f":520,"v":-0.05},{"p":"M2","a":"z","k":"Al","f":530,"v":0.0},{"p":"M2","a":"z","k":"Al","f":540,"v":-0.05},{"p":"M2","a":"z","k":"Al","f":550,"v":0.0},{"p":"M2","a":"z","k":"Al","f":560,"v":0.02},{"p":"M2","a":"z","k":"Al","f":570,"v":0.0},{"p":"M2","a":"z","k":"Al","f":580,"v":0.05},{"p":"M2","a":"z","k":"Al","f":590,"v":0.1},{"p":"M2","a":"z","k":"Al","f":600,"v":0.08},
{"p":"M2","a":"z","k":"Msp","f":478,"v":0.15},{"p":"M2","a":"z","k":"Msp","f":485,"v":0.12},{"p":"M2","a":"z","k":"Msp","f":492,"v":0.1},
{"p":"M2","a":"z","k":"Fsp","f":515,"v":-0.2},{"p":"M2","a":"z","k":"Fsp","f":520,"v":-0.25},
{"p":"M2","a":"z","k":"Kd","f":548,"v":0.0},{"p":"M2","a":"z","k":"Kd","f":553,"v":0.05},
{"p":"M2","a":"z","k":"P","f":570,"v":-0.1},{"p":"M2","a":"z","k":"P","f":580,"v":-0.05},{"p":"M2","a":"z","k":"P","f":590,"v":0.02},

{"p":"M1","a":"z","k":"Fs","f":50,"v":-0.3},{"p":"M1","a":"z","k":"Fs","f":54,"v":-0.33},
{"p":"M1","a":"z","k":"Cb","f":90,"v":-0.35},{"p":"M1","a":"z","k":"Cb","f":100,"v":-0.4},{"p":"M1","a":"z","k":"Cb","f":110,"v":-0.5},{"p":"M1","a":"z","k":"Cb","f":120,"v":-0.55},{"p":"M1","a":"z","k":"Cb","f":130,"v":-0.55},{"p":"M1","a":"z","k":"Cb","f":140,"v":-0.55},{"p":"M1","a":"z","k":"Cb","f":150,"v":-0.52},{"p":"M1","a":"z","k":"Cb","f":160,"v":-0.5},{"p":"M1","a":"z","k":"Cb","f":170,"v":-0.5},{"p":"M1","a":"z","k":"Cb","f":180,"v":-0.48},{"p":"M1","a":"z","k":"Cb","f":190,"v":-0.45},{"p":"M1","a":"z","k":"Cb","f":200,"v":-0.42},{"p":"M1","a":"z","k":"Cb","f":210,"v":-0.4},{"p":"M1","a":"z","k":"Cb","f":220,"v":-0.38},{"p":"M1","a":"z","k":"Cb","f":230,"v":-0.4},{"p":"M1","a":"z","k":"Cb","f":240,"v":-0.38},{"p":"M1","a":"z","k":"Cb","f":250,"v":-0.4},{"p":"M1","a":"z","k":"Cb","f":260,"v":-0.35},{"p":"M1","a":"z","k":"Cb","f":270,"v":-0.3},{"p":"M1","a":"z","k":"Cb","f":280,"v":-0.3},{"p":"M1","a":"z","k":"Cb","f":290,"v":-0.35},{"p":"M1","a":"z","k":"Cb","f":300,"v":-0.3},{"p":"M1","a":"z","k":"Cb","f":310,"v":-0.32},{"p":"M1","a":"z","k":"Cb","f":320,"v":-0.3},{"p":"M1","a":"z","k":"Cb","f":330,"v":-0.28},{"p":"M1","a":"z","k":"Cb","f":340,"v":-0.3},
{"p":"M1","a":"z","k":"F","f":70,"v":-0.3},{"p":"M1","a":"z","k":"F","f":80,"v":-0.25},{"p":"M1","a":"z","k":"F","f":90,"v":-0.2},{"p":"M1","a":"z","k":"F","f":100,"v":-0.1},{"p":"M1","a":"z","k":"F","f":110,"v":0.0},{"p":"M1","a":"z","k":"F","f":120,"v":-0.1},{"p":"M1","a":"z","k":"F","f":130,"v":-0.2},{"p":"M1","a":"z","k":"F","f":140,"v":-0.25},{"p":"M1","a":"z","k":"F","f":150,"v":-0.2},{"p":"M1","a":"z","k":"F","f":160,"v":-0.15},{"p":"M1","a":"z","k":"F","f":170,"v":-0.1},{"p":"M1","a":"z","k":"F","f":180,"v":-0.05},{"p":"M1","a":"z","k":"F","f":190,"v":-0.1},{"p":"M1","a":"z","k":"F","f":200,"v":-0.05},{"p":"M1","a":"z","k":"F","f":210,"v":0.0},{"p":"M1","a":"z","k":"F","f":220,"v":0.05},{"p":"M1","a":"z","k":"F","f":230,"v":0.1},{"p":"M1","a":"z","k":"F","f":240,"v":0.2},{"p":"M1","a":"z","k":"F","f":250,"v":0.25},{"p":"M1","a":"z","k":"F","f":260,"v":0.3},{"p":"M1","a":"z","k":"F","f":270,"v":0.35},{"p":"M1","a":"z","k":"F","f":280,"v":0.3},{"p":"M1","a":"z","k":"F","f":290,"v":0.35},{"p":"M1","a":"z","k":"F","f":300,"v":0.4},{"p":"M1","a":"z","k":"F","f":310,"v":0.42},{"p":"M1","a":"z","k":"F","f":320,"v":0.45},{"p":"M1","a":"z","k":"F","f":330,"v":0.45},{"p":"M1","a":"z","k":"F","f":340,"v":0.35},{"p":"M1","a":"z","k":"F","f":350,"v":0.3},{"p":"M1","a":"z","k":"F","f":360,"v":0.25},{"p":"M1","a":"z","k":"F","f":370,"v":0.2},{"p":"M1","a":"z","k":"F","f":380,"v":0.15},{"p":"M1","a":"z","k":"F","f":390,"v":0.12},{"p":"M1","a":"z","k":"F","f":400,"v":0.1},
{"p":"M1","a":"z","k":"Al","f":460,"v":-0.05},{"p":"M1","a":"z","k":"Al","f":470,"v":-0.1},{"p":"M1","a":"z","k":"Al","f":480,"v":-0.12},{"p":"M1","a":"z","k":"Al","f":490,"v":-0.1},{"p":"M1","a":"z","k":"Al","f":500,"v":-0.08},{"p":"M1","a":"z","k":"Al","f":510,"v":-0.1},{"p":"M1","a":"z","k":"Al","f":520,"v":-0.05},{"p":"M1","a":"z","k":"Al","f":530,"v":0.0},{"p":"M1","a":"z","k":"Al","f":540,"v":-0.02},{"p":"M1","a":"z","k":"Al","f":550,"v":0.0},{"p":"M1","a":"z","k":"Al","f":560,"v":0.03},{"p":"M1","a":"z","k":"Al","f":570,"v":0.05},{"p":"M1","a":"z","k":"Al","f":580,"v":0.08},{"p":"M1","a":"z","k":"Al","f":590,"v":0.1},{"p":"M1","a":"z","k":"Al","f":600,"v":0.12},
{"p":"M1","a":"z","k":"Msp","f":478,"v":0.15},{"p":"M1","a":"z","k":"Msp","f":486,"v":0.1},
{"p":"M1","a":"z","k":"Fsp","f":515,"v":-0.15},{"p":"M1","a":"z","k":"Fsp","f":520,"v":-0.2},
{"p":"M1","a":"z","k":"P","f":570,"v":-0.1},{"p":"M1","a":"z","k":"P","f":580,"v":-0.05}
],
"b":[
{"m":"M2","a":"x","c":"Al","t":"Static Error","v":0,"l":"x"},{"m":"M2","a":"x","c":"Al","t":"Moving Error","v":9,"l":"9"},
{"m":"M2","a":"x","c":"Cb","t":"Static Error","v":0,"l":"x"},{"m":"M2","a":"x","c":"Cb","t":"Moving Error","v":6,"l":"6"},
{"m":"M2","a":"x","c":"Fs","t":"Static Error","v":19,"l":"19"},{"m":"M2","a":"x","c":"Fs","t":"Moving Error","v":0,"l":"x"},
{"m":"M2","a":"x","c":"Fsp","t":"Static Error","v":8,"l":"8"},{"m":"M2","a":"x","c":"Fsp","t":"Moving Error","v":0,"l":"x"},
{"m":"M2","a":"x","c":"F","t":"Static Error","v":4,"l":"4"},{"m":"M2","a":"x","c":"F","t":"Moving Error","v":3,"l":"3"},
{"m":"M2","a":"x","c":"Kd","t":"Static Error","v":8,"l":"8"},{"m":"M2","a":"x","c":"Kd","t":"Moving Error","v":9,"l":"9"},
{"m":"M2","a":"x","c":"Msp","t":"Static Error","v":9,"l":"9"},{"m":"M2","a":"x","c":"Msp","t":"Moving Error","v":0,"l":"x"},
{"m":"M2","a":"x","c":"Rp","t":"Static Error","v":14,"l":"14"},{"m":"M2","a":"x","c":"Rp","t":"Moving Error","v":0,"l":"x"},
{"m":"M2","a":"x","c":"P","t":"Static Error","v":0,"l":"x"},{"m":"M2","a":"x","c":"P","t":"Moving Error","v":0,"l":"x"},
{"m":"M1","a":"x","c":"Al","t":"Static Error","v":2,"l":"2"},{"m":"M1","a":"x","c":"Al","t":"Moving Error","v":5,"l":"5"},
{"m":"M1","a":"x","c":"Cb","t":"Static Error","v":0,"l":"x"},{"m":"M1","a":"x","c":"Cb","t":"Moving Error","v":10,"l":"10"},
{"m":"M1","a":"x","c":"Fs","t":"Static Error","v":16,"l":"16"},{"m":"M1","a":"x","c":"Fs","t":"Moving Error","v":0,"l":"x"},
{"m":"M1","a":"x","c":"Fsp","t":"Static Error","v":11,"l":"11"},{"m":"M1","a":"x","c":"Fsp","t":"Moving Error","v":0,"l":"x"},
{"m":"M1","a":"x","c":"F","t":"Static Error","v":3,"l":"3"},{"m":"M1","a":"x","c":"F","t":"Moving Error","v":2,"l":"2"},
{"m":"M1","a":"x","c":"Kd","t":"Static Error","v":0,"l":"x"},{"m":"M1","a":"x","c":"Kd","t":"Moving Error","v":11,"l":"11"},
{"m":"M1","a":"x","c":"Msp","t":"Static Error","v":12,"l":"12"},{"m":"M1","a":"x","c":"Msp","t":"Moving Error","v":0,"l":"x"},
{"m":"M1","a":"x","c":"Rp","t":"Static Error","v":4,"l":"4"},{"m":"M1","a":"x","c":"Rp","t":"Moving Error","v":0,"l":"x"},
{"m":"M1","a":"x","c":"P","t":"Static Error","v":0,"l":"x"},{"m":"M1","a":"x","c":"P","t":"Moving Error","v":0,"l":"x"},
{"m":"M2","a":"y","c":"Al","t":"Static Error","v":11,"l":"11"},{"m":"M2","a":"y","c":"Al","t":"Moving Error","v":9,"l":"9"},
{"m":"M2","a":"y","c":"Cb","t":"Static Error","v":0,"l":"x"},{"m":"M2","a":"y","c":"Cb","t":"Moving Error","v":9,"l":"9"},
{"m":"M2","a":"y","c":"Fs","t":"Static Error","v":3,"l":"3"},{"m":"M2","a":"y","c":"Fs","t":"Moving Error","v":0,"l":"x"},
{"m":"M2","a":"y","c":"Fsp","t":"Static Error","v":13,"l":"13"},{"m":"M2","a":"y","c":"Fsp","t":"Moving Error","v":0,"l":"x"},
{"m":"M2","a":"y","c":"F","t":"Static Error","v":16,"l":"16"},{"m":"M2","a":"y","c":"F","t":"Moving Error","v":20,"l":"20"},
{"m":"M2","a":"y","c":"Kd","t":"Static Error","v":11,"l":"11"},{"m":"M2","a":"y","c":"Kd","t":"Moving Error","v":14,"l":"14"},
{"m":"M2","a":"y","c":"Msp","t":"Static Error","v":18,"l":"18"},{"m":"M2","a":"y","c":"Msp","t":"Moving Error","v":0,"l":"x"},
{"m":"M2","a":"y","c":"Rp","t":"Static Error","v":18,"l":"18"},{"m":"M2","a":"y","c":"Rp","t":"Moving Error","v":0,"l":"x"},
{"m":"M2","a":"y","c":"P","t":"Static Error","v":0,"l":"x"},{"m":"M2","a":"y","c":"P","t":"Moving Error","v":0,"l":"x"},
{"m":"M1","a":"y","c":"Al","t":"Static Error","v":6,"l":"6"},{"m":"M1","a":"y","c":"Al","t":"Moving Error","v":7,"l":"7"},
{"m":"M1","a":"y","c":"Cb","t":"Static Error","v":0,"l":"x"},{"m":"M1","a":"y","c":"Cb","t":"Moving Error","v":11,"l":"11"},
{"m":"M1","a":"y","c":"Fs","t":"Static Error","v":2,"l":"2"},{"m":"M1","a":"y","c":"Fs","t":"Moving Error","v":0,"l":"x"},
{"m":"M1","a":"y","c":"Fsp","t":"Static Error","v":7,"l":"7"},{"m":"M1","a":"y","c":"Fsp","t":"Moving Error","v":0,"l":"x"},
{"m":"M1","a":"y","c":"F","t":"Static Error","v":14,"l":"14"},{"m":"M1","a":"y","c":"F","t":"Moving Error","v":12,"l":"12"},
{"m":"M1","a":"y","c":"Kd","t":"Static Error","v":0,"l":"x"},{"m":"M1","a":"y","c":"Kd","t":"Moving Error","v":15,"l":"15"},
{"m":"M1","a":"y","c":"Msp","t":"Static Error","v":2,"l":"2"},{"m":"M1","a":"y","c":"Msp","t":"Moving Error","v":0,"l":"x"},
{"m":"M1","a":"y","c":"Rp","t":"Static Error","v":20,"l":"20"},{"m":"M1","a":"y","c":"Rp","t":"Moving Error","v":0,"l":"x"},
{"m":"M1","a":"y","c":"P","t":"Static Error","v":0,"l":"x"},{"m":"M1","a":"y","c":"P","t":"Moving Error","v":0,"l":"x"},
{"m":"M2","a":"z","c":"Al","t":"Static Error","v":13,"l":"13"},{"m":"M2","a":"z","c":"Al","t":"Moving Error","v":19,"l":"19"},
{"m":"M2","a":"z","c":"Cb","t":"Static Error","v":0,"l":"x"},{"m":"M2","a":"z","c":"Cb","t":"Moving Error","v":28,"l":"28"},
{"m":"M2","a":"z","c":"Fs","t":"Static Error","v":17,"l":"17"},{"m":"M2","a":"z","c":"Fs","t":"Moving Error","v":0,"l":"x"},
{"m":"M2","a":"z","c":"Fsp","t":"Static Error","v":25,"l":"25"},{"m":"M2","a":"z","c":"Fsp","t":"Moving Error","v":0,"l":"x"},
{"m":"M2","a":"z","c":"F","t":"Static Error","v":27,"l":"27"},{"m":"M2","a":"z","c":"F","t":"Moving Error","v":21,"l":"21"},
{"m":"M2","a":"z","c":"Kd","t":"Static Error","v":13,"l":"13"},{"m":"M2","a":"z","c":"Kd","t":"Moving Error","v":9,"l":"9"},
{"m":"M2","a":"z","c":"Msp","t":"Static Error","v":35,"l":"35"},{"m":"M2","a":"z","c":"Msp","t":"Moving Error","v":0,"l":"x"},
{"m":"M2","a":"z","c":"Rp","t":"Static Error","v":8,"l":"8"},{"m":"M2","a":"z","c":"Rp","t":"Moving Error","v":0,"l":"x"},
{"m":"M2","a":"z","c":"P","t":"Static Error","v":0,"l":"x"},{"m":"M2","a":"z","c":"P","t":"Moving Error","v":0,"l":"x"},
{"m":"M1","a":"z","c":"Al","t":"Static Error","v":5,"l":"5"},{"m":"M1","a":"z","c":"Al","t":"Moving Error","v":14,"l":"14"},
{"m":"M1","a":"z","c":"Cb","t":"Static Error","v":0,"l":"x"},{"m":"M1","a":"z","c":"Cb","t":"Moving Error","v":18,"l":"18"},
{"m":"M1","a":"z","c":"Fs","t":"Static Error","v":12,"l":"12"},{"m":"M1","a":"z","c":"Fs","t":"Moving Error","v":0,"l":"x"},
{"m":"M1","a":"z","c":"Fsp","t":"Static Error","v":19,"l":"19"},{"m":"M1","a":"z","c":"Fsp","t":"Moving Error","v":0,"l":"x"},
{"m":"M1","a":"z","c":"F","t":"Static Error","v":18,"l":"18"},{"m":"M1","a":"z","c":"F","t":"Moving Error","v":17,"l":"17"},
{"m":"M1","a":"z","c":"Kd","t":"Static Error","v":0,"l":"x"},{"m":"M1","a":"z","c":"Kd","t":"Moving Error","v":7,"l":"7"},
{"m":"M1","a":"z","c":"Msp","t":"Static Error","v":32,"l":"32"},{"m":"M1","a":"z","c":"Msp","t":"Moving Error","v":0,"l":"x"},
{"m":"M1","a":"z","c":"Rp","t":"Static Error","v":10,"l":"10"},{"m":"M1","a":"z","c":"Rp","t":"Moving Error","v":0,"l":"x"},
{"m":"M1","a":"z","c":"P","t":"Static Error","v":0,"l":"x"},{"m":"M1","a":"z","c":"P","t":"Moving Error","v":0,"l":"x"}
]
},
"bounds":"flush",
"columns":5,
"spacing":{"row":60,"column":51},
"resolve":{"scale":{"color":"independent"},"legend":{"color":"independent"}},
"concat":[
  {"width":170,"height":99,"title":"Ground Truth","data":{"name":"s"},"transform":[{"filter":"datum.p=='G'&&datum.a=='x'"}],"mark":{"type":"circle","size":9,"opacity":1},
   "encoding":{"x":{"field":"f","type":"quantitative","scale":{"domain":[0,600],"nice":false},"axis":{"values":[0,100,200,300,400,500,600],"title":"Frames"}},
    "y":{"field":"v","type":"quantitative","scale":{"domain":[-1,1],"nice":false},"axis":{"values":[-1,-0.5,0,0.5,1],"format":".1f","title":"x"}},
    "color":{"field":"k","type":"nominal","scale":{"domain":["Al","Fs","F","Msp","Rp","P","Cb","Fsp","Kd"],"range":["#1f77b4","#9467bd","#e377c2","#17becf","#1f77b4","#ff7f0e","#ff7f0e","#8c564b","#7f7f7f"]},"legend":null}}},
  {"width":170,"height":99,"title":"Model 2","data":{"name":"s"},"transform":[{"filter":"datum.p=='M2'&&datum.a=='x'"}],"mark":{"type":"circle","size":9,"opacity":1},
   "encoding":{"x":{"field":"f","type":"quantitative","scale":{"domain":[0,600],"nice":false},"axis":{"values":[0,100,200,300,400,500,600],"title":"Frames"}},
    "y":{"field":"v","type":"quantitative","scale":{"domain":[-1,1],"nice":false},"axis":{"values":[-1,-0.5,0,0.5,1],"format":".1f","title":"xpred","titleFontWeight":"normal","titleFontStyle":"italic"}},
    "color":{"field":"k","type":"nominal","scale":{"domain":["Al","Fs","F","Msp","Rp","P","Cb","Fsp","Kd"],"range":["#1f77b4","#9467bd","#e377c2","#17becf","#1f77b4","#ff7f0e","#ff7f0e","#8c564b","#7f7f7f"]},"legend":null}}},
  {"width":170,"height":99,"title":"Model 1","data":{"name":"s"},"transform":[{"filter":"datum.p=='M1'&&datum.a=='x'"}],"mark":{"type":"circle","size":9,"opacity":1},
   "encoding":{"x":{"field":"f","type":"quantitative","scale":{"domain":[0,600],"nice":false},"axis":{"values":[0,100,200,300,400,500,600],"title":"Frames"}},
    "y":{"field":"v","type":"quantitative","scale":{"domain":[-1,1],"nice":false},"axis":{"values":[-1,-0.5,0,0.5,1],"format":".1f","title":"xpred","titleFontWeight":"normal","titleFontStyle":"italic"}},
    "color":{"field":"k","type":"nominal","scale":{"domain":["Al","Fs","F","Msp","Rp","P","Cb","Fsp","Kd"],"range":["#1f77b4","#9467bd","#e377c2","#17becf","#1f77b4","#ff7f0e","#ff7f0e","#8c564b","#7f7f7f"]},"legend":null}}},
  {"width":166,"height":99,"title":"Model2 Error","data":{"name":"b"},"transform":[{"filter":"datum.m=='M2'&&datum.a=='x'"}],
   "encoding":{"x":{"field":"c","type":"nominal","sort":["Al","Cb","Fs","Fsp","F","Kd","Msp","Rp","P"],"scale":{"paddingInner":0.3,"paddingOuter":0.45},"axis":{"labelAngle":-90,"title":null,"grid":true,"labelFontSize":11,"labelBaseline":"middle"}},
    "xOffset":{"field":"t","type":"nominal","sort":["Static Error","Moving Error"]},
    "y":{"field":"v","type":"quantitative","scale":{"domain":[0,100]},"axis":{"values":[0,20,40,60,80,100],"title":"MAE(%)","titleFontWeight":"normal","titleFontSize":10}}},
   "layer":[
    {"mark":{"type":"bar"},"encoding":{"color":{"field":"t","type":"nominal","scale":{"domain":["Static Error","Moving Error"],"range":["#7f7f7f","#17becf"]},"legend":{"orient":"top-right","offset":3,"title":null,"symbolType":"M-1.5,-0.5H1.5V0.5H-1.5Z","symbolSize":170,"symbolStrokeWidth":0,"labelFontSize":9,"fillColor":"rgba(255,255,255,0.85)","strokeColor":"#cccccc","cornerRadius":3,"padding":4,"rowPadding":1,"labelOffset":10}}}},
    {"mark":{"type":"text","baseline":"bottom","dy":-1,"fontSize":8,"color":"#333333"},"encoding":{"text":{"field":"l"}}}
   ]},
  {"width":166,"height":99,"title":"Model1 Error","data":{"name":"b"},"transform":[{"filter":"datum.m=='M1'&&datum.a=='x'"}],
   "encoding":{"x":{"field":"c","type":"nominal","sort":["Al","Cb","Fs","Fsp","F","Kd","Msp","Rp","P"],"scale":{"paddingInner":0.3,"paddingOuter":0.45},"axis":{"labelAngle":-90,"title":null,"grid":true,"labelFontSize":11,"labelBaseline":"middle"}},
    "xOffset":{"field":"t","type":"nominal","sort":["Static Error","Moving Error"]},
    "y":{"field":"v","type":"quantitative","scale":{"domain":[0,100]},"axis":{"values":[0,20,40,60,80,100],"title":"MAE(%)","titleFontWeight":"normal","titleFontSize":10}}},
   "layer":[
    {"mark":{"type":"bar"},"encoding":{"color":{"field":"t","type":"nominal","scale":{"domain":["Static Error","Moving Error"],"range":["#7f7f7f","#17becf"]},"legend":{"orient":"top-right","offset":3,"title":null,"symbolType":"M-1.5,-0.5H1.5V0.5H-1.5Z","symbolSize":170,"symbolStrokeWidth":0,"labelFontSize":9,"fillColor":"rgba(255,255,255,0.85)","strokeColor":"#cccccc","cornerRadius":3,"padding":4,"rowPadding":1,"labelOffset":10}}}},
    {"mark":{"type":"text","baseline":"bottom","dy":-1,"fontSize":8,"color":"#333333"},"encoding":{"text":{"field":"l"}}}
   ]},
  {"width":170,"height":99,"data":{"name":"s"},"transform":[{"filter":"datum.p=='G'&&datum.a=='y'"}],"mark":{"type":"circle","size":9,"opacity":1},
   "encoding":{"x":{"field":"f","type":"quantitative","scale":{"domain":[0,600],"nice":false},"axis":{"values":[0,100,200,300,400,500,600],"title":"Frames"}},
    "y":{"field":"v","type":"quantitative","scale":{"domain":[-1,1],"nice":false},"axis":{"values":[-1,-0.5,0,0.5,1],"format":".1f","title":"y"}},
    "color":{"field":"k","type":"nominal","scale":{"domain":["Al","Fs","F","Msp","Rp","P","Cb","Fsp","Kd"],"range":["#1f77b4","#9467bd","#e377c2","#17becf","#1f77b4","#ff7f0e","#ff7f0e","#8c564b","#7f7f7f"]},
     "legend":{"orient":"none","legendX":21,"legendY":-225,"direction":"horizontal","columns":6,"title":null,"symbolType":"circle","symbolSize":55,"symbolStrokeWidth":0,"labelFontSize":12.5,"columnPadding":34,"rowPadding":5,"padding":6,"strokeColor":"#cccccc","cornerRadius":3,"labelOffset":12,
      "labelExpr":"datum.label=='Al'?'Alarm(Al)':datum.label=='Fs'?'Female scream(Fs)':datum.label=='F'?'Footsteps(F)':datum.label=='Msp'?'Male speech(Msp)':datum.label=='Rp'?'Ringing phone(Rp)':datum.label=='P'?'Piano(P)':datum.label=='Cb'?'Crying baby(Cb)':datum.label=='Fsp'?'Female speech(Fsp)':'Knocking on door(Kd)'"}}}},
  {"width":170,"height":99,"data":{"name":"s"},"transform":[{"filter":"datum.p=='M2'&&datum.a=='y'"}],"mark":{"type":"circle","size":9,"opacity":1},
   "encoding":{"x":{"field":"f","type":"quantitative","scale":{"domain":[0,600],"nice":false},"axis":{"values":[0,100,200,300,400,500,600],"title":"Frames"}},
    "y":{"field":"v","type":"quantitative","scale":{"domain":[-1,1],"nice":false},"axis":{"values":[-1,-0.5,0,0.5,1],"format":".1f","title":"ypred","titleFontWeight":"normal","titleFontStyle":"italic"}},
    "color":{"field":"k","type":"nominal","scale":{"domain":["Al","Fs","F","Msp","Rp","P","Cb","Fsp","Kd"],"range":["#1f77b4","#9467bd","#e377c2","#17becf","#1f77b4","#ff7f0e","#ff7f0e","#8c564b","#7f7f7f"]},"legend":null}}},
  {"width":170,"height":99,"data":{"name":"s"},"transform":[{"filter":"datum.p=='M1'&&datum.a=='y'"}],"mark":{"type":"circle","size":9,"opacity":1},
   "encoding":{"x":{"field":"f","type":"quantitative","scale":{"domain":[0,600],"nice":false},"axis":{"values":[0,100,200,300,400,500,600],"title":"Frames"}},
    "y":{"field":"v","type":"quantitative","scale":{"domain":[-1,1],"nice":false},"axis":{"values":[-1,-0.5,0,0.5,1],"format":".1f","title":"ypred","titleFontWeight":"normal","titleFontStyle":"italic"}},
    "color":{"field":"k","type":"nominal","scale":{"domain":["Al","Fs","F","Msp","Rp","P","Cb","Fsp","Kd"],"range":["#1f77b4","#9467bd","#e377c2","#17becf","#1f77b4","#ff7f0e","#ff7f0e","#8c564b","#7f7f7f"]},"legend":null}}},
  {"width":166,"height":99,"data":{"name":"b"},"transform":[{"filter":"datum.m=='M2'&&datum.a=='y'"}],
   "encoding":{"x":{"field":"c","type":"nominal","sort":["Al","Cb","Fs","Fsp","F","Kd","Msp","Rp","P"],"scale":{"paddingInner":0.3,"paddingOuter":0.45},"axis":{"labelAngle":-90,"title":null,"grid":true,"labelFontSize":11,"labelBaseline":"middle"}},
    "xOffset":{"field":"t","type":"nominal","sort":["Static Error","Moving Error"]},
    "y":{"field":"v","type":"quantitative","scale":{"domain":[0,100]},"axis":{"values":[0,20,40,60,80,100],"title":"MAE(%)","titleFontWeight":"normal","titleFontSize":10}}},
   "layer":[
    {"mark":{"type":"bar"},"encoding":{"color":{"field":"t","type":"nominal","scale":{"domain":["Static Error","Moving Error"],"range":["#7f7f7f","#17becf"]},"legend":{"orient":"top-right","offset":3,"title":null,"symbolType":"M-1.5,-0.5H1.5V0.5H-1.5Z","symbolSize":170,"symbolStrokeWidth":0,"labelFontSize":9,"fillColor":"rgba(255,255,255,0.85)","strokeColor":"#cccccc","cornerRadius":3,"padding":4,"rowPadding":1,"labelOffset":10}}}},
    {"mark":{"type":"text","baseline":"bottom","dy":-1,"fontSize":8,"color":"#333333"},"encoding":{"text":{"field":"l"}}}
   ]},
  {"width":166,"height":99,"data":{"name":"b"},"transform":[{"filter":"datum.m=='M1'&&datum.a=='y'"}],
   "encoding":{"x":{"field":"c","type":"nominal","sort":["Al","Cb","Fs","Fsp","F","Kd","Msp","Rp","P"],"scale":{"paddingInner":0.3,"paddingOuter":0.45},"axis":{"labelAngle":-90,"title":null,"grid":true,"labelFontSize":11,"labelBaseline":"middle"}},
    "xOffset":{"field":"t","type":"nominal","sort":["Static Error","Moving Error"]},
    "y":{"field":"v","type":"quantitative","scale":{"domain":[0,100]},"axis":{"values":[0,20,40,60,80,100],"title":"MAE(%)","titleFontWeight":"normal","titleFontSize":10}}},
   "layer":[
    {"mark":{"type":"bar"},"encoding":{"color":{"field":"t","type":"nominal","scale":{"domain":["Static Error","Moving Error"],"range":["#7f7f7f","#17becf"]},"legend":{"orient":"top-right","offset":3,"title":null,"symbolType":"M-1.5,-0.5H1.5V0.5H-1.5Z","symbolSize":170,"symbolStrokeWidth":0,"labelFontSize":9,"fillColor":"rgba(255,255,255,0.85)","strokeColor":"#cccccc","cornerRadius":3,"padding":4,"rowPadding":1,"labelOffset":10}}}},
    {"mark":{"type":"text","baseline":"bottom","dy":-1,"fontSize":8,"color":"#333333"},"encoding":{"text":{"field":"l"}}}
   ]},
  {"width":170,"height":99,"data":{"name":"s"},"transform":[{"filter":"datum.p=='G'&&datum.a=='z'"}],"mark":{"type":"circle","size":9,"opacity":1},
   "encoding":{"x":{"field":"f","type":"quantitative","scale":{"domain":[0,600],"nice":false},"axis":{"values":[0,100,200,300,400,500,600],"title":"Frames"}},
    "y":{"field":"v","type":"quantitative","scale":{"domain":[-1,2],"nice":false},"axis":{"values":[-1,-0.5,0,0.5,1,1.5,2],"format":".1f","title":"z"}},
    "color":{"field":"k","type":"nominal","scale":{"domain":["Al","Fs","F","Msp","Rp","P","Cb","Fsp","Kd"],"range":["#1f77b4","#9467bd","#e377c2","#17becf","#1f77b4","#ff7f0e","#ff7f0e","#8c564b","#7f7f7f"]},"legend":null}}},
  {"width":170,"height":99,"data":{"name":"s"},"transform":[{"filter":"datum.p=='M2'&&datum.a=='z'"}],"mark":{"type":"circle","size":9,"opacity":1},
   "encoding":{"x":{"field":"f","type":"quantitative","scale":{"domain":[0,600],"nice":false},"axis":{"values":[0,100,200,300,400,500,600],"title":"Frames"}},
    "y":{"field":"v","type":"quantitative","scale":{"domain":[-1,2],"nice":false},"axis":{"values":[-1,-0.5,0,0.5,1,1.5,2],"format":".1f","title":"zpred","titleFontWeight":"normal","titleFontStyle":"italic"}},
    "color":{"field":"k","type":"nominal","scale":{"domain":["Al","Fs","F","Msp","Rp","P","Cb","Fsp","Kd"],"range":["#1f77b4","#9467bd","#e377c2","#17becf","#1f77b4","#ff7f0e","#ff7f0e","#8c564b","#7f7f7f"]},"legend":null}}},
  {"width":170,"height":99,"data":{"name":"s"},"transform":[{"filter":"datum.p=='M1'&&datum.a=='z'"}],"mark":{"type":"circle","size":9,"opacity":1},
   "encoding":{"x":{"field":"f","type":"quantitative","scale":{"domain":[0,600],"nice":false},"axis":{"values":[0,100,200,300,400,500,600],"title":"Frames"}},
    "y":{"field":"v","type":"quantitative","scale":{"domain":[-1,2],"nice":false},"axis":{"values":[-1,-0.5,0,0.5,1,1.5,2],"format":".1f","title":"zpred","titleFontWeight":"normal","titleFontStyle":"italic"}},
    "color":{"field":"k","type":"nominal","scale":{"domain":["Al","Fs","F","Msp","Rp","P","Cb","Fsp","Kd"],"range":["#1f77b4","#9467bd","#e377c2","#17becf","#1f77b4","#ff7f0e","#ff7f0e","#8c564b","#7f7f7f"]},"legend":null}}},
  {"width":166,"height":99,"data":{"name":"b"},"transform":[{"filter":"datum.m=='M2'&&datum.a=='z'"}],
   "encoding":{"x":{"field":"c","type":"nominal","sort":["Al","Cb","Fs","Fsp","F","Kd","Msp","Rp","P"],"scale":{"paddingInner":0.3,"paddingOuter":0.45},"axis":{"labelAngle":-90,"title":null,"grid":true,"labelFontSize":11,"labelBaseline":"middle"}},
    "xOffset":{"field":"t","type":"nominal","sort":["Static Error","Moving Error"]},
    "y":{"field":"v","type":"quantitative","scale":{"domain":[0,100]},"axis":{"values":[0,20,40,60,80,100],"title":"MAE(%)","titleFontWeight":"normal","titleFontSize":10}}},
   "layer":[
    {"mark":{"type":"bar"},"encoding":{"color":{"field":"t","type":"nominal","scale":{"domain":["Static Error","Moving Error"],"range":["#7f7f7f","#17becf"]},"legend":{"orient":"top-right","offset":3,"title":null,"symbolType":"M-1.5,-0.5H1.5V0.5H-1.5Z","symbolSize":170,"symbolStrokeWidth":0,"labelFontSize":9,"fillColor":"rgba(255,255,255,0.85)","strokeColor":"#cccccc","cornerRadius":3,"padding":4,"rowPadding":1,"labelOffset":10}}}},
    {"mark":{"type":"text","baseline":"bottom","dy":-1,"fontSize":8,"color":"#333333"},"encoding":{"text":{"field":"l"}}}
   ]},
  {"width":166,"height":99,"data":{"name":"b"},"transform":[{"filter":"datum.m=='M1'&&datum.a=='z'"}],
   "encoding":{"x":{"field":"c","type":"nominal","sort":["Al","Cb","Fs","Fsp","F","Kd","Msp","Rp","P"],"scale":{"paddingInner":0.3,"paddingOuter":0.45},"axis":{"labelAngle":-90,"title":null,"grid":true,"labelFontSize":11,"labelBaseline":"middle"}},
    "xOffset":{"field":"t","type":"nominal","sort":["Static Error","Moving Error"]},
    "y":{"field":"v","type":"quantitative","scale":{"domain":[0,100]},"axis":{"values":[0,20,40,60,80,100],"title":"MAE(%)","titleFontWeight":"normal","titleFontSize":10}}},
   "layer":[
    {"mark":{"type":"bar"},"encoding":{"color":{"field":"t","type":"nominal","scale":{"domain":["Static Error","Moving Error"],"range":["#7f7f7f","#17becf"]},"legend":{"orient":"top-right","offset":3,"title":null,"symbolType":"M-1.5,-0.5H1.5V0.5H-1.5Z","symbolSize":170,"symbolStrokeWidth":0,"labelFontSize":9,"fillColor":"rgba(255,255,255,0.85)","strokeColor":"#cccccc","cornerRadius":3,"padding":4,"rowPadding":1,"labelOffset":10}}}},
    {"mark":{"type":"text","baseline":"bottom","dy":-1,"fontSize":8,"color":"#333333"},"encoding":{"text":{"field":"l"}}}
   ]}
]
}
